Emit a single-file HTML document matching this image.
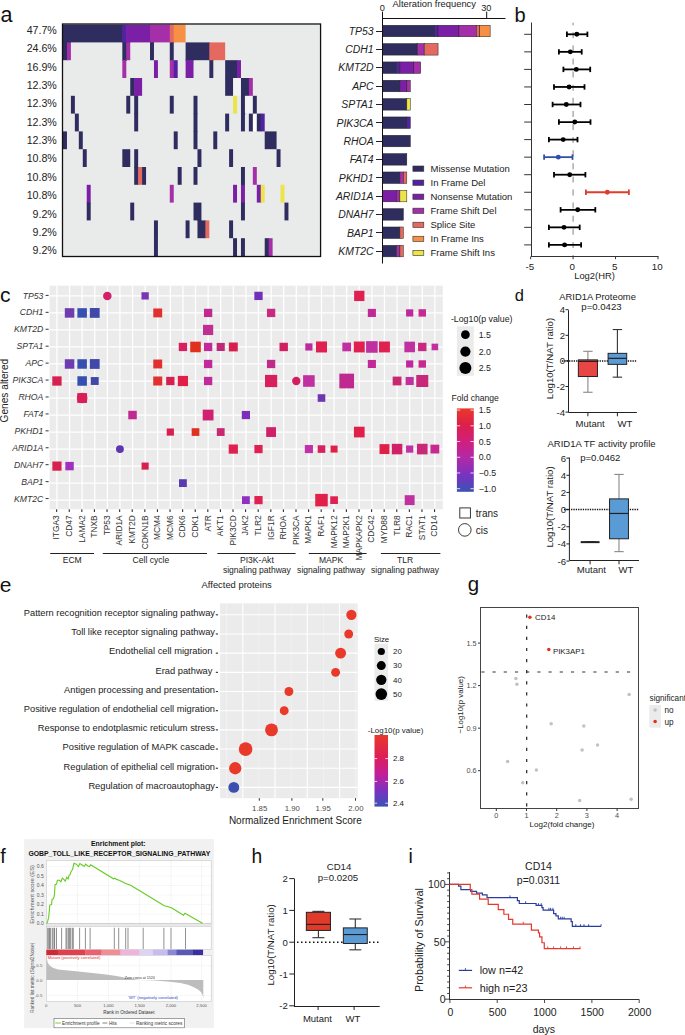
<!DOCTYPE html>
<html><head><meta charset="utf-8"><style>
html,body{margin:0;padding:0;background:#fff;}
body{width:685px;height:1035px;overflow:hidden;}
svg{display:block;font-family:"Liberation Sans", sans-serif;}
</style></head><body>
<svg width="685" height="1035" viewBox="0 0 685 1035">
<rect x="63.00" y="24.60" width="257.07" height="231.40" fill="#e9eaea"/>
<rect x="63.00" y="24.60" width="59.93" height="17.80" fill="#2f2c5f"/>
<rect x="63.00" y="41.90" width="3.98" height="1.10" fill="#2f2c5f"/>
<rect x="66.95" y="41.90" width="3.98" height="1.10" fill="#2f2c5f"/>
<rect x="122.33" y="24.60" width="4.55" height="18.40" fill="#5322a3"/>
<rect x="126.28" y="24.60" width="24.33" height="17.80" fill="#7a1fa6"/>
<rect x="126.28" y="41.90" width="3.98" height="1.10" fill="#7a1fa6"/>
<rect x="150.01" y="24.60" width="20.38" height="17.80" fill="#a42fa9"/>
<rect x="150.01" y="41.90" width="3.98" height="1.10" fill="#a42fa9"/>
<rect x="169.78" y="24.60" width="4.55" height="18.40" fill="#e46a60"/>
<rect x="173.74" y="24.60" width="11.87" height="17.80" fill="#f59046"/>
<rect x="63.00" y="42.40" width="4.55" height="17.80" fill="#2f2c5f"/>
<rect x="66.95" y="42.40" width="3.96" height="17.80" fill="#a42fa9"/>
<rect x="122.33" y="42.40" width="4.55" height="18.40" fill="#2f2c5f"/>
<rect x="126.28" y="42.40" width="3.96" height="17.80" fill="#a42fa9"/>
<rect x="150.01" y="42.40" width="3.96" height="17.80" fill="#2f2c5f"/>
<rect x="169.78" y="42.40" width="3.96" height="18.40" fill="#2f2c5f"/>
<rect x="185.61" y="42.40" width="24.33" height="17.80" fill="#2f2c5f"/>
<rect x="185.61" y="59.70" width="3.98" height="1.10" fill="#2f2c5f"/>
<rect x="189.56" y="59.70" width="3.98" height="1.10" fill="#2f2c5f"/>
<rect x="209.34" y="42.40" width="15.82" height="17.80" fill="#e46a60"/>
<rect x="209.34" y="59.70" width="3.98" height="1.10" fill="#e46a60"/>
<rect x="122.33" y="60.20" width="3.96" height="17.80" fill="#a42fa9"/>
<rect x="153.97" y="60.20" width="3.96" height="17.80" fill="#7a1fa6"/>
<rect x="169.78" y="60.20" width="4.55" height="17.80" fill="#a42fa9"/>
<rect x="173.74" y="60.20" width="3.96" height="17.80" fill="#5322a3"/>
<rect x="185.61" y="60.20" width="7.91" height="17.80" fill="#7a1fa6"/>
<rect x="209.34" y="60.20" width="3.96" height="17.80" fill="#2f2c5f"/>
<rect x="225.16" y="60.20" width="12.46" height="18.40" fill="#2f2c5f"/>
<rect x="237.02" y="60.20" width="3.96" height="18.40" fill="#7a1fa6"/>
<rect x="130.24" y="78.00" width="4.55" height="17.80" fill="#2f2c5f"/>
<rect x="134.19" y="78.00" width="7.91" height="17.80" fill="#7a1fa6"/>
<rect x="134.19" y="95.30" width="3.98" height="1.10" fill="#7a1fa6"/>
<rect x="225.16" y="78.00" width="8.51" height="17.80" fill="#2f2c5f"/>
<rect x="233.06" y="78.00" width="8.51" height="17.80" fill="#f1f2f2"/>
<rect x="233.06" y="95.30" width="3.98" height="1.10" fill="#f1f2f2"/>
<rect x="240.97" y="78.00" width="8.51" height="18.40" fill="#2f2c5f"/>
<rect x="248.88" y="78.00" width="3.96" height="18.40" fill="#a42fa9"/>
<rect x="70.91" y="95.80" width="3.96" height="17.80" fill="#2f2c5f"/>
<rect x="126.28" y="95.80" width="3.96" height="17.80" fill="#2f2c5f"/>
<rect x="134.19" y="95.80" width="3.96" height="18.40" fill="#2f2c5f"/>
<rect x="169.78" y="95.80" width="3.96" height="17.80" fill="#2f2c5f"/>
<rect x="193.52" y="95.80" width="3.96" height="18.40" fill="#2f2c5f"/>
<rect x="233.06" y="95.80" width="3.96" height="17.80" fill="#ebe54a"/>
<rect x="240.97" y="95.80" width="4.55" height="18.40" fill="#2f2c5f"/>
<rect x="244.93" y="95.80" width="8.51" height="17.80" fill="#f1f2f2"/>
<rect x="248.88" y="113.10" width="4.55" height="1.10" fill="#f1f2f2"/>
<rect x="252.84" y="95.80" width="3.96" height="18.40" fill="#2f2c5f"/>
<rect x="74.86" y="113.60" width="3.96" height="17.80" fill="#2f2c5f"/>
<rect x="134.19" y="113.60" width="3.96" height="17.80" fill="#2f2c5f"/>
<rect x="193.52" y="113.60" width="3.96" height="18.40" fill="#2f2c5f"/>
<rect x="225.16" y="113.60" width="3.96" height="17.80" fill="#2f2c5f"/>
<rect x="240.97" y="113.60" width="3.96" height="17.80" fill="#2f2c5f"/>
<rect x="248.88" y="113.60" width="4.55" height="17.80" fill="#2f2c5f"/>
<rect x="252.84" y="113.60" width="4.55" height="17.80" fill="#ffffff"/>
<rect x="256.80" y="113.60" width="4.55" height="17.80" fill="#2f2c5f"/>
<rect x="260.75" y="113.60" width="3.96" height="17.80" fill="#5322a3"/>
<rect x="63.00" y="131.40" width="3.96" height="17.80" fill="#2f2c5f"/>
<rect x="78.82" y="131.40" width="3.96" height="17.80" fill="#2f2c5f"/>
<rect x="173.74" y="131.40" width="3.96" height="17.80" fill="#2f2c5f"/>
<rect x="193.52" y="131.40" width="3.96" height="17.80" fill="#2f2c5f"/>
<rect x="213.29" y="131.40" width="3.96" height="17.80" fill="#2f2c5f"/>
<rect x="264.71" y="131.40" width="11.87" height="17.80" fill="#2f2c5f"/>
<rect x="82.78" y="149.20" width="3.96" height="17.80" fill="#2f2c5f"/>
<rect x="122.33" y="149.20" width="7.91" height="17.80" fill="#2f2c5f"/>
<rect x="134.19" y="149.20" width="3.96" height="18.40" fill="#2f2c5f"/>
<rect x="197.47" y="149.20" width="3.96" height="17.80" fill="#2f2c5f"/>
<rect x="229.11" y="149.20" width="3.96" height="17.80" fill="#2f2c5f"/>
<rect x="276.57" y="149.20" width="3.96" height="17.80" fill="#2f2c5f"/>
<rect x="134.19" y="167.00" width="4.55" height="17.80" fill="#2f2c5f"/>
<rect x="138.14" y="167.00" width="4.55" height="17.80" fill="#e46a60"/>
<rect x="142.10" y="167.00" width="3.96" height="17.80" fill="#2f2c5f"/>
<rect x="177.69" y="167.00" width="3.96" height="17.80" fill="#2f2c5f"/>
<rect x="193.52" y="167.00" width="3.96" height="17.80" fill="#2f2c5f"/>
<rect x="240.97" y="167.00" width="3.96" height="18.40" fill="#2f2c5f"/>
<rect x="252.84" y="167.00" width="3.96" height="17.80" fill="#a42fa9"/>
<rect x="86.73" y="184.80" width="3.96" height="18.40" fill="#7a1fa6"/>
<rect x="169.78" y="184.80" width="3.96" height="17.80" fill="#a42fa9"/>
<rect x="233.06" y="184.80" width="3.96" height="17.80" fill="#7a1fa6"/>
<rect x="240.97" y="184.80" width="3.96" height="18.40" fill="#7a1fa6"/>
<rect x="256.80" y="184.80" width="4.55" height="17.80" fill="#7a1fa6"/>
<rect x="260.75" y="184.80" width="3.96" height="17.80" fill="#ebe54a"/>
<rect x="280.52" y="184.80" width="3.96" height="17.80" fill="#ebe54a"/>
<rect x="86.73" y="202.60" width="3.96" height="17.80" fill="#2f2c5f"/>
<rect x="130.24" y="202.60" width="3.96" height="17.80" fill="#2f2c5f"/>
<rect x="193.52" y="202.60" width="7.91" height="17.80" fill="#2f2c5f"/>
<rect x="197.47" y="219.90" width="3.96" height="1.10" fill="#2f2c5f"/>
<rect x="240.97" y="202.60" width="3.96" height="17.80" fill="#2f2c5f"/>
<rect x="284.48" y="202.60" width="3.96" height="17.80" fill="#2f2c5f"/>
<rect x="153.97" y="220.40" width="3.96" height="18.40" fill="#2f2c5f"/>
<rect x="185.61" y="220.40" width="3.96" height="17.80" fill="#2f2c5f"/>
<rect x="197.47" y="220.40" width="8.51" height="17.80" fill="#2f2c5f"/>
<rect x="205.38" y="220.40" width="3.96" height="17.80" fill="#e46a60"/>
<rect x="229.11" y="220.40" width="3.96" height="17.80" fill="#2f2c5f"/>
<rect x="153.97" y="238.20" width="3.96" height="17.80" fill="#2f2c5f"/>
<rect x="233.06" y="238.20" width="3.96" height="17.80" fill="#2f2c5f"/>
<rect x="240.97" y="238.20" width="3.96" height="17.80" fill="#2f2c5f"/>
<rect x="264.71" y="238.20" width="4.55" height="17.80" fill="#2f2c5f"/>
<rect x="268.66" y="238.20" width="3.96" height="17.80" fill="#a42fa9"/>
<rect x="62.50" y="24.00" width="258.07" height="232.50" fill="none" stroke="#111" stroke-width="1.3"/>
<text x="56.80" y="33.90" font-size="10.65" text-anchor="end" fill="#222">47.7%</text>
<text x="56.80" y="52.27" font-size="10.65" text-anchor="end" fill="#222">24.6%</text>
<text x="56.80" y="70.64" font-size="10.65" text-anchor="end" fill="#222">16.9%</text>
<text x="56.80" y="89.01" font-size="10.65" text-anchor="end" fill="#222">12.3%</text>
<text x="56.80" y="107.38" font-size="10.65" text-anchor="end" fill="#222">12.3%</text>
<text x="56.80" y="125.75" font-size="10.65" text-anchor="end" fill="#222">12.3%</text>
<text x="56.80" y="144.12" font-size="10.65" text-anchor="end" fill="#222">12.3%</text>
<text x="56.80" y="162.49" font-size="10.65" text-anchor="end" fill="#222">10.8%</text>
<text x="56.80" y="180.86" font-size="10.65" text-anchor="end" fill="#222">10.8%</text>
<text x="56.80" y="199.23" font-size="10.65" text-anchor="end" fill="#222">10.8%</text>
<text x="56.80" y="217.60" font-size="10.65" text-anchor="end" fill="#222">9.2%</text>
<text x="56.80" y="235.97" font-size="10.65" text-anchor="end" fill="#222">9.2%</text>
<text x="56.80" y="254.34" font-size="10.65" text-anchor="end" fill="#222">9.2%</text>
<text x="0.50" y="21.80" font-size="21.5" fill="#111">a</text>
<rect x="382.50" y="25.25" width="52.09" height="11.5" fill="#2f2c5f" stroke="#222" stroke-width="0.5"/>
<rect x="434.60" y="25.25" width="3.47" height="11.5" fill="#5322a3" stroke="#222" stroke-width="0.5"/>
<rect x="438.07" y="25.25" width="20.84" height="11.5" fill="#7a1fa6" stroke="#222" stroke-width="0.5"/>
<rect x="458.91" y="25.25" width="17.36" height="11.5" fill="#a42fa9" stroke="#222" stroke-width="0.5"/>
<rect x="476.27" y="25.25" width="3.47" height="11.5" fill="#e46a60" stroke="#222" stroke-width="0.5"/>
<rect x="479.74" y="25.25" width="10.42" height="11.5" fill="#f59046" stroke="#222" stroke-width="0.5"/>
<text x="373.60" y="34.80" font-size="10.45" text-anchor="end" fill="#222" font-style="italic">TP53</text>
<line x1="376.00" y1="31.50" x2="382.50" y2="31.50" stroke="#222" stroke-width="1"/>
<rect x="382.50" y="43.59" width="34.73" height="11.5" fill="#2f2c5f" stroke="#222" stroke-width="0.5"/>
<rect x="417.23" y="43.59" width="6.95" height="11.5" fill="#a42fa9" stroke="#222" stroke-width="0.5"/>
<rect x="424.18" y="43.59" width="13.89" height="11.5" fill="#e46a60" stroke="#222" stroke-width="0.5"/>
<text x="373.60" y="53.14" font-size="10.45" text-anchor="end" fill="#222" font-style="italic">CDH1</text>
<line x1="376.00" y1="49.50" x2="382.50" y2="49.50" stroke="#222" stroke-width="1"/>
<rect x="382.50" y="61.93" width="13.89" height="11.5" fill="#2f2c5f" stroke="#222" stroke-width="0.5"/>
<rect x="396.39" y="61.93" width="3.47" height="11.5" fill="#5322a3" stroke="#222" stroke-width="0.5"/>
<rect x="399.87" y="61.93" width="13.89" height="11.5" fill="#7a1fa6" stroke="#222" stroke-width="0.5"/>
<rect x="413.76" y="61.93" width="6.95" height="11.5" fill="#a42fa9" stroke="#222" stroke-width="0.5"/>
<text x="373.60" y="71.48" font-size="10.45" text-anchor="end" fill="#222" font-style="italic">KMT2D</text>
<line x1="376.00" y1="67.50" x2="382.50" y2="67.50" stroke="#222" stroke-width="1"/>
<rect x="382.50" y="80.27" width="17.36" height="11.5" fill="#2f2c5f" stroke="#222" stroke-width="0.5"/>
<rect x="399.87" y="80.27" width="6.95" height="11.5" fill="#7a1fa6" stroke="#222" stroke-width="0.5"/>
<rect x="406.81" y="80.27" width="3.47" height="11.5" fill="#a42fa9" stroke="#222" stroke-width="0.5"/>
<text x="373.60" y="89.82" font-size="10.45" text-anchor="end" fill="#222" font-style="italic">APC</text>
<line x1="376.00" y1="86.50" x2="382.50" y2="86.50" stroke="#222" stroke-width="1"/>
<rect x="382.50" y="98.61" width="24.31" height="11.5" fill="#2f2c5f" stroke="#222" stroke-width="0.5"/>
<rect x="406.81" y="98.61" width="3.47" height="11.5" fill="#ebe54a" stroke="#222" stroke-width="0.5"/>
<text x="373.60" y="108.16" font-size="10.45" text-anchor="end" fill="#222" font-style="italic">SPTA1</text>
<line x1="376.00" y1="104.50" x2="382.50" y2="104.50" stroke="#222" stroke-width="1"/>
<rect x="382.50" y="116.95" width="24.31" height="11.5" fill="#2f2c5f" stroke="#222" stroke-width="0.5"/>
<rect x="406.81" y="116.95" width="3.47" height="11.5" fill="#5322a3" stroke="#222" stroke-width="0.5"/>
<text x="373.60" y="126.50" font-size="10.45" text-anchor="end" fill="#222" font-style="italic">PIK3CA</text>
<line x1="376.00" y1="122.50" x2="382.50" y2="122.50" stroke="#222" stroke-width="1"/>
<rect x="382.50" y="135.29" width="27.78" height="11.5" fill="#2f2c5f" stroke="#222" stroke-width="0.5"/>
<text x="373.60" y="144.84" font-size="10.45" text-anchor="end" fill="#222" font-style="italic">RHOA</text>
<line x1="376.00" y1="141.50" x2="382.50" y2="141.50" stroke="#222" stroke-width="1"/>
<rect x="382.50" y="153.63" width="24.31" height="11.5" fill="#2f2c5f" stroke="#222" stroke-width="0.5"/>
<text x="373.60" y="163.18" font-size="10.45" text-anchor="end" fill="#222" font-style="italic">FAT4</text>
<line x1="376.00" y1="159.50" x2="382.50" y2="159.50" stroke="#222" stroke-width="1"/>
<rect x="382.50" y="171.97" width="17.36" height="11.5" fill="#2f2c5f" stroke="#222" stroke-width="0.5"/>
<rect x="399.87" y="171.97" width="3.47" height="11.5" fill="#a42fa9" stroke="#222" stroke-width="0.5"/>
<rect x="403.34" y="171.97" width="3.47" height="11.5" fill="#e46a60" stroke="#222" stroke-width="0.5"/>
<text x="373.60" y="181.52" font-size="10.45" text-anchor="end" fill="#222" font-style="italic">PKHD1</text>
<line x1="376.00" y1="177.50" x2="382.50" y2="177.50" stroke="#222" stroke-width="1"/>
<rect x="382.50" y="190.31" width="13.89" height="11.5" fill="#7a1fa6" stroke="#222" stroke-width="0.5"/>
<rect x="396.39" y="190.31" width="3.47" height="11.5" fill="#a42fa9" stroke="#222" stroke-width="0.5"/>
<rect x="399.87" y="190.31" width="6.95" height="11.5" fill="#ebe54a" stroke="#222" stroke-width="0.5"/>
<text x="373.60" y="199.86" font-size="10.45" text-anchor="end" fill="#222" font-style="italic">ARID1A</text>
<line x1="376.00" y1="196.50" x2="382.50" y2="196.50" stroke="#222" stroke-width="1"/>
<rect x="382.50" y="208.65" width="20.84" height="11.5" fill="#2f2c5f" stroke="#222" stroke-width="0.5"/>
<text x="373.60" y="218.20" font-size="10.45" text-anchor="end" fill="#222" font-style="italic">DNAH7</text>
<line x1="376.00" y1="214.50" x2="382.50" y2="214.50" stroke="#222" stroke-width="1"/>
<rect x="382.50" y="226.99" width="17.36" height="11.5" fill="#2f2c5f" stroke="#222" stroke-width="0.5"/>
<rect x="399.87" y="226.99" width="3.47" height="11.5" fill="#e46a60" stroke="#222" stroke-width="0.5"/>
<text x="373.60" y="236.54" font-size="10.45" text-anchor="end" fill="#222" font-style="italic">BAP1</text>
<line x1="376.00" y1="232.50" x2="382.50" y2="232.50" stroke="#222" stroke-width="1"/>
<rect x="382.50" y="245.33" width="13.89" height="11.5" fill="#2f2c5f" stroke="#222" stroke-width="0.5"/>
<rect x="396.39" y="245.33" width="3.47" height="11.5" fill="#a42fa9" stroke="#222" stroke-width="0.5"/>
<rect x="399.87" y="245.33" width="3.47" height="11.5" fill="#e46a60" stroke="#222" stroke-width="0.5"/>
<text x="373.60" y="254.88" font-size="10.45" text-anchor="end" fill="#222" font-style="italic">KMT2C</text>
<line x1="376.00" y1="251.50" x2="382.50" y2="251.50" stroke="#222" stroke-width="1"/>
<line x1="382.50" y1="18.00" x2="382.50" y2="263.50" stroke="#111" stroke-width="1"/>
<line x1="382.00" y1="18.50" x2="505.50" y2="18.50" stroke="#111" stroke-width="1"/>
<line x1="382.50" y1="11.60" x2="382.50" y2="18.20" stroke="#111" stroke-width="1"/>
<line x1="486.69" y1="11.60" x2="486.69" y2="18.20" stroke="#111" stroke-width="1"/>
<text x="382.30" y="10.90" font-size="9.2" text-anchor="middle" fill="#222">0</text>
<text x="486.30" y="10.90" font-size="9.2" text-anchor="middle" fill="#222">30</text>
<text x="434.30" y="6.90" font-size="9.4" text-anchor="middle" fill="#222">Alteration frequency</text>
<rect x="412.90" y="166.00" width="10.9" height="5.3" fill="#2f2c5f" stroke="#333" stroke-width="0.6"/>
<text x="430.50" y="172.10" font-size="9.5" fill="#222">Missense Mutation</text>
<rect x="412.90" y="180.05" width="10.9" height="5.3" fill="#5322a3" stroke="#333" stroke-width="0.6"/>
<text x="430.50" y="186.15" font-size="9.5" fill="#222">In Frame Del</text>
<rect x="412.90" y="194.10" width="10.9" height="5.3" fill="#7a1fa6" stroke="#333" stroke-width="0.6"/>
<text x="430.50" y="200.20" font-size="9.5" fill="#222">Nonsense Mutation</text>
<rect x="412.90" y="208.15" width="10.9" height="5.3" fill="#a42fa9" stroke="#333" stroke-width="0.6"/>
<text x="430.50" y="214.25" font-size="9.5" fill="#222">Frame Shift Del</text>
<rect x="412.90" y="222.20" width="10.9" height="5.3" fill="#e46a60" stroke="#333" stroke-width="0.6"/>
<text x="430.50" y="228.30" font-size="9.5" fill="#222">Splice Site</text>
<rect x="412.90" y="236.25" width="10.9" height="5.3" fill="#f59046" stroke="#333" stroke-width="0.6"/>
<text x="430.50" y="242.35" font-size="9.5" fill="#222">In Frame Ins</text>
<rect x="412.90" y="250.30" width="10.9" height="5.3" fill="#ebe54a" stroke="#333" stroke-width="0.6"/>
<text x="430.50" y="256.40" font-size="9.5" fill="#222">Frame Shift Ins</text>
<text x="514.50" y="21.90" font-size="20" fill="#111">b</text>
<line x1="531.50" y1="22.50" x2="531.50" y2="256.50" stroke="#333" stroke-width="1"/>
<line x1="531.00" y1="256.50" x2="658.50" y2="256.50" stroke="#333" stroke-width="1"/>
<line x1="530.66" y1="256.50" x2="530.66" y2="259.20" stroke="#333" stroke-width="1"/>
<text x="529.87" y="270.10" font-size="9.8" text-anchor="middle" fill="#222">-5</text>
<line x1="573.10" y1="256.50" x2="573.10" y2="259.20" stroke="#333" stroke-width="1"/>
<text x="572.30" y="270.10" font-size="9.8" text-anchor="middle" fill="#222">0</text>
<line x1="615.54" y1="256.50" x2="615.54" y2="259.20" stroke="#333" stroke-width="1"/>
<text x="614.74" y="270.10" font-size="9.8" text-anchor="middle" fill="#222">5</text>
<line x1="657.97" y1="256.50" x2="657.97" y2="259.20" stroke="#333" stroke-width="1"/>
<text x="657.17" y="270.10" font-size="9.8" text-anchor="middle" fill="#222">10</text>
<text x="594.50" y="279.00" font-size="9.4" text-anchor="middle" fill="#222">Log2(HR)</text>
<line x1="573.10" y1="22.80" x2="573.10" y2="256.00" stroke="#8f8f8f" stroke-width="1.1" stroke-dasharray="6,7.1" stroke-dashoffset="3.6"/>
<line x1="524.20" y1="34.30" x2="531.50" y2="34.30" stroke="#333" stroke-width="1"/>
<line x1="566.90" y1="34.30" x2="587.40" y2="34.30" stroke="#000" stroke-width="1.8"/>
<line x1="566.90" y1="31.60" x2="566.90" y2="37.00" stroke="#000" stroke-width="1.8"/>
<line x1="587.40" y1="31.60" x2="587.40" y2="37.00" stroke="#000" stroke-width="1.8"/>
<circle cx="576.80" cy="34.30" r="2.45" fill="#000"/>
<line x1="524.20" y1="51.85" x2="531.50" y2="51.85" stroke="#333" stroke-width="1"/>
<line x1="558.90" y1="51.85" x2="581.70" y2="51.85" stroke="#000" stroke-width="1.8"/>
<line x1="558.90" y1="49.15" x2="558.90" y2="54.55" stroke="#000" stroke-width="1.8"/>
<line x1="581.70" y1="49.15" x2="581.70" y2="54.55" stroke="#000" stroke-width="1.8"/>
<circle cx="570.30" cy="51.85" r="2.45" fill="#000"/>
<line x1="524.20" y1="69.40" x2="531.50" y2="69.40" stroke="#333" stroke-width="1"/>
<line x1="563.40" y1="69.40" x2="590.20" y2="69.40" stroke="#000" stroke-width="1.8"/>
<line x1="563.40" y1="66.70" x2="563.40" y2="72.10" stroke="#000" stroke-width="1.8"/>
<line x1="590.20" y1="66.70" x2="590.20" y2="72.10" stroke="#000" stroke-width="1.8"/>
<circle cx="576.30" cy="69.40" r="2.45" fill="#000"/>
<line x1="524.20" y1="86.95" x2="531.50" y2="86.95" stroke="#333" stroke-width="1"/>
<line x1="554.00" y1="86.95" x2="584.50" y2="86.95" stroke="#000" stroke-width="1.8"/>
<line x1="554.00" y1="84.25" x2="554.00" y2="89.65" stroke="#000" stroke-width="1.8"/>
<line x1="584.50" y1="84.25" x2="584.50" y2="89.65" stroke="#000" stroke-width="1.8"/>
<circle cx="569.10" cy="86.95" r="2.45" fill="#000"/>
<line x1="524.20" y1="104.50" x2="531.50" y2="104.50" stroke="#333" stroke-width="1"/>
<line x1="552.60" y1="104.50" x2="580.50" y2="104.50" stroke="#000" stroke-width="1.8"/>
<line x1="552.60" y1="101.80" x2="552.60" y2="107.20" stroke="#000" stroke-width="1.8"/>
<line x1="580.50" y1="101.80" x2="580.50" y2="107.20" stroke="#000" stroke-width="1.8"/>
<circle cx="566.30" cy="104.50" r="2.45" fill="#000"/>
<line x1="524.20" y1="122.05" x2="531.50" y2="122.05" stroke="#333" stroke-width="1"/>
<line x1="558.90" y1="122.05" x2="590.50" y2="122.05" stroke="#000" stroke-width="1.8"/>
<line x1="558.90" y1="119.35" x2="558.90" y2="124.75" stroke="#000" stroke-width="1.8"/>
<line x1="590.50" y1="119.35" x2="590.50" y2="124.75" stroke="#000" stroke-width="1.8"/>
<circle cx="574.80" cy="122.05" r="2.45" fill="#000"/>
<line x1="524.20" y1="139.60" x2="531.50" y2="139.60" stroke="#333" stroke-width="1"/>
<line x1="548.90" y1="139.60" x2="577.50" y2="139.60" stroke="#000" stroke-width="1.8"/>
<line x1="548.90" y1="136.90" x2="548.90" y2="142.30" stroke="#000" stroke-width="1.8"/>
<line x1="577.50" y1="136.90" x2="577.50" y2="142.30" stroke="#000" stroke-width="1.8"/>
<circle cx="563.20" cy="139.60" r="2.45" fill="#000"/>
<line x1="524.20" y1="157.15" x2="531.50" y2="157.15" stroke="#333" stroke-width="1"/>
<line x1="544.10" y1="157.15" x2="572.50" y2="157.15" stroke="#3050a8" stroke-width="1.8"/>
<line x1="544.10" y1="154.45" x2="544.10" y2="159.85" stroke="#3050a8" stroke-width="1.8"/>
<line x1="572.50" y1="154.45" x2="572.50" y2="159.85" stroke="#3050a8" stroke-width="1.8"/>
<circle cx="558.30" cy="157.15" r="2.45" fill="#3050a8"/>
<line x1="524.20" y1="174.70" x2="531.50" y2="174.70" stroke="#333" stroke-width="1"/>
<line x1="554.00" y1="174.70" x2="585.40" y2="174.70" stroke="#000" stroke-width="1.8"/>
<line x1="554.00" y1="172.00" x2="554.00" y2="177.40" stroke="#000" stroke-width="1.8"/>
<line x1="585.40" y1="172.00" x2="585.40" y2="177.40" stroke="#000" stroke-width="1.8"/>
<circle cx="569.70" cy="174.70" r="2.45" fill="#000"/>
<line x1="524.20" y1="192.25" x2="531.50" y2="192.25" stroke="#333" stroke-width="1"/>
<line x1="585.90" y1="192.25" x2="628.90" y2="192.25" stroke="#e03c2c" stroke-width="1.8"/>
<line x1="585.90" y1="189.55" x2="585.90" y2="194.95" stroke="#e03c2c" stroke-width="1.8"/>
<line x1="628.90" y1="189.55" x2="628.90" y2="194.95" stroke="#e03c2c" stroke-width="1.8"/>
<circle cx="607.30" cy="192.25" r="2.45" fill="#e03c2c"/>
<line x1="524.20" y1="209.80" x2="531.50" y2="209.80" stroke="#333" stroke-width="1"/>
<line x1="560.60" y1="209.80" x2="595.30" y2="209.80" stroke="#000" stroke-width="1.8"/>
<line x1="560.60" y1="207.10" x2="560.60" y2="212.50" stroke="#000" stroke-width="1.8"/>
<line x1="595.30" y1="207.10" x2="595.30" y2="212.50" stroke="#000" stroke-width="1.8"/>
<circle cx="577.70" cy="209.80" r="2.45" fill="#000"/>
<line x1="524.20" y1="227.35" x2="531.50" y2="227.35" stroke="#333" stroke-width="1"/>
<line x1="548.90" y1="227.35" x2="579.70" y2="227.35" stroke="#000" stroke-width="1.8"/>
<line x1="548.90" y1="224.65" x2="548.90" y2="230.05" stroke="#000" stroke-width="1.8"/>
<line x1="579.70" y1="224.65" x2="579.70" y2="230.05" stroke="#000" stroke-width="1.8"/>
<circle cx="564.00" cy="227.35" r="2.45" fill="#000"/>
<line x1="524.20" y1="244.90" x2="531.50" y2="244.90" stroke="#333" stroke-width="1"/>
<line x1="548.90" y1="244.90" x2="581.10" y2="244.90" stroke="#000" stroke-width="1.8"/>
<line x1="548.90" y1="242.20" x2="548.90" y2="247.60" stroke="#000" stroke-width="1.8"/>
<line x1="581.10" y1="242.20" x2="581.10" y2="247.60" stroke="#000" stroke-width="1.8"/>
<circle cx="564.60" cy="244.90" r="2.45" fill="#000"/>
<text x="0.00" y="301.50" font-size="21" fill="#111">c</text>
<rect x="49.60" y="285.70" width="393.20" height="223.60" fill="#ebebeb"/>
<line x1="56.95" y1="285.70" x2="56.95" y2="509.30" stroke="#ffffff" stroke-width="1.25"/>
<line x1="69.55" y1="285.70" x2="69.55" y2="509.30" stroke="#ffffff" stroke-width="1.25"/>
<line x1="82.14" y1="285.70" x2="82.14" y2="509.30" stroke="#ffffff" stroke-width="1.25"/>
<line x1="94.74" y1="285.70" x2="94.74" y2="509.30" stroke="#ffffff" stroke-width="1.25"/>
<line x1="107.34" y1="285.70" x2="107.34" y2="509.30" stroke="#ffffff" stroke-width="1.25"/>
<line x1="119.94" y1="285.70" x2="119.94" y2="509.30" stroke="#ffffff" stroke-width="1.25"/>
<line x1="132.53" y1="285.70" x2="132.53" y2="509.30" stroke="#ffffff" stroke-width="1.25"/>
<line x1="145.13" y1="285.70" x2="145.13" y2="509.30" stroke="#ffffff" stroke-width="1.25"/>
<line x1="157.73" y1="285.70" x2="157.73" y2="509.30" stroke="#ffffff" stroke-width="1.25"/>
<line x1="170.32" y1="285.70" x2="170.32" y2="509.30" stroke="#ffffff" stroke-width="1.25"/>
<line x1="182.92" y1="285.70" x2="182.92" y2="509.30" stroke="#ffffff" stroke-width="1.25"/>
<line x1="195.52" y1="285.70" x2="195.52" y2="509.30" stroke="#ffffff" stroke-width="1.25"/>
<line x1="208.11" y1="285.70" x2="208.11" y2="509.30" stroke="#ffffff" stroke-width="1.25"/>
<line x1="220.71" y1="285.70" x2="220.71" y2="509.30" stroke="#ffffff" stroke-width="1.25"/>
<line x1="233.31" y1="285.70" x2="233.31" y2="509.30" stroke="#ffffff" stroke-width="1.25"/>
<line x1="245.90" y1="285.70" x2="245.90" y2="509.30" stroke="#ffffff" stroke-width="1.25"/>
<line x1="258.50" y1="285.70" x2="258.50" y2="509.30" stroke="#ffffff" stroke-width="1.25"/>
<line x1="271.10" y1="285.70" x2="271.10" y2="509.30" stroke="#ffffff" stroke-width="1.25"/>
<line x1="283.70" y1="285.70" x2="283.70" y2="509.30" stroke="#ffffff" stroke-width="1.25"/>
<line x1="296.29" y1="285.70" x2="296.29" y2="509.30" stroke="#ffffff" stroke-width="1.25"/>
<line x1="308.89" y1="285.70" x2="308.89" y2="509.30" stroke="#ffffff" stroke-width="1.25"/>
<line x1="321.49" y1="285.70" x2="321.49" y2="509.30" stroke="#ffffff" stroke-width="1.25"/>
<line x1="334.08" y1="285.70" x2="334.08" y2="509.30" stroke="#ffffff" stroke-width="1.25"/>
<line x1="346.68" y1="285.70" x2="346.68" y2="509.30" stroke="#ffffff" stroke-width="1.25"/>
<line x1="359.28" y1="285.70" x2="359.28" y2="509.30" stroke="#ffffff" stroke-width="1.25"/>
<line x1="371.88" y1="285.70" x2="371.88" y2="509.30" stroke="#ffffff" stroke-width="1.25"/>
<line x1="384.47" y1="285.70" x2="384.47" y2="509.30" stroke="#ffffff" stroke-width="1.25"/>
<line x1="397.07" y1="285.70" x2="397.07" y2="509.30" stroke="#ffffff" stroke-width="1.25"/>
<line x1="409.67" y1="285.70" x2="409.67" y2="509.30" stroke="#ffffff" stroke-width="1.25"/>
<line x1="422.26" y1="285.70" x2="422.26" y2="509.30" stroke="#ffffff" stroke-width="1.25"/>
<line x1="434.86" y1="285.70" x2="434.86" y2="509.30" stroke="#ffffff" stroke-width="1.25"/>
<line x1="49.60" y1="295.90" x2="442.80" y2="295.90" stroke="#ffffff" stroke-width="1.25"/>
<line x1="49.60" y1="312.92" x2="442.80" y2="312.92" stroke="#ffffff" stroke-width="1.25"/>
<line x1="49.60" y1="329.94" x2="442.80" y2="329.94" stroke="#ffffff" stroke-width="1.25"/>
<line x1="49.60" y1="346.96" x2="442.80" y2="346.96" stroke="#ffffff" stroke-width="1.25"/>
<line x1="49.60" y1="363.98" x2="442.80" y2="363.98" stroke="#ffffff" stroke-width="1.25"/>
<line x1="49.60" y1="381.00" x2="442.80" y2="381.00" stroke="#ffffff" stroke-width="1.25"/>
<line x1="49.60" y1="398.02" x2="442.80" y2="398.02" stroke="#ffffff" stroke-width="1.25"/>
<line x1="49.60" y1="415.04" x2="442.80" y2="415.04" stroke="#ffffff" stroke-width="1.25"/>
<line x1="49.60" y1="432.06" x2="442.80" y2="432.06" stroke="#ffffff" stroke-width="1.25"/>
<line x1="49.60" y1="449.08" x2="442.80" y2="449.08" stroke="#ffffff" stroke-width="1.25"/>
<line x1="49.60" y1="466.10" x2="442.80" y2="466.10" stroke="#ffffff" stroke-width="1.25"/>
<line x1="49.60" y1="483.12" x2="442.80" y2="483.12" stroke="#ffffff" stroke-width="1.25"/>
<line x1="49.60" y1="500.14" x2="442.80" y2="500.14" stroke="#ffffff" stroke-width="1.25"/>
<text x="43.30" y="298.50" font-size="8.65" text-anchor="end" fill="#333" font-style="italic">TP53</text>
<line x1="45.60" y1="295.40" x2="48.60" y2="295.40" stroke="#333" stroke-width="1"/>
<text x="43.30" y="315.43" font-size="8.65" text-anchor="end" fill="#333" font-style="italic">CDH1</text>
<line x1="45.60" y1="312.33" x2="48.60" y2="312.33" stroke="#333" stroke-width="1"/>
<text x="43.30" y="332.36" font-size="8.65" text-anchor="end" fill="#333" font-style="italic">KMT2D</text>
<line x1="45.60" y1="329.26" x2="48.60" y2="329.26" stroke="#333" stroke-width="1"/>
<text x="43.30" y="349.29" font-size="8.65" text-anchor="end" fill="#333" font-style="italic">SPTA1</text>
<line x1="45.60" y1="346.19" x2="48.60" y2="346.19" stroke="#333" stroke-width="1"/>
<text x="43.30" y="366.22" font-size="8.65" text-anchor="end" fill="#333" font-style="italic">APC</text>
<line x1="45.60" y1="363.12" x2="48.60" y2="363.12" stroke="#333" stroke-width="1"/>
<text x="43.30" y="383.15" font-size="8.65" text-anchor="end" fill="#333" font-style="italic">PIK3CA</text>
<line x1="45.60" y1="380.05" x2="48.60" y2="380.05" stroke="#333" stroke-width="1"/>
<text x="43.30" y="400.08" font-size="8.65" text-anchor="end" fill="#333" font-style="italic">RHOA</text>
<line x1="45.60" y1="396.98" x2="48.60" y2="396.98" stroke="#333" stroke-width="1"/>
<text x="43.30" y="417.01" font-size="8.65" text-anchor="end" fill="#333" font-style="italic">FAT4</text>
<line x1="45.60" y1="413.91" x2="48.60" y2="413.91" stroke="#333" stroke-width="1"/>
<text x="43.30" y="433.94" font-size="8.65" text-anchor="end" fill="#333" font-style="italic">PKHD1</text>
<line x1="45.60" y1="430.84" x2="48.60" y2="430.84" stroke="#333" stroke-width="1"/>
<text x="43.30" y="450.87" font-size="8.65" text-anchor="end" fill="#333" font-style="italic">ARID1A</text>
<line x1="45.60" y1="447.77" x2="48.60" y2="447.77" stroke="#333" stroke-width="1"/>
<text x="43.30" y="467.80" font-size="8.65" text-anchor="end" fill="#333" font-style="italic">DNAH7</text>
<line x1="45.60" y1="464.70" x2="48.60" y2="464.70" stroke="#333" stroke-width="1"/>
<text x="43.30" y="484.73" font-size="8.65" text-anchor="end" fill="#333" font-style="italic">BAP1</text>
<line x1="45.60" y1="481.63" x2="48.60" y2="481.63" stroke="#333" stroke-width="1"/>
<text x="43.30" y="501.66" font-size="8.65" text-anchor="end" fill="#333" font-style="italic">KMT2C</text>
<line x1="45.60" y1="498.56" x2="48.60" y2="498.56" stroke="#333" stroke-width="1"/>
<line x1="56.65" y1="509.30" x2="56.65" y2="511.90" stroke="#333" stroke-width="1.1"/>
<text x="59.45" y="515.30" font-size="8.4" text-anchor="end" fill="#333" transform="rotate(-90 59.45 515.30)">ITGA3</text>
<line x1="69.25" y1="509.30" x2="69.25" y2="511.90" stroke="#333" stroke-width="1.1"/>
<text x="72.05" y="515.30" font-size="8.4" text-anchor="end" fill="#333" transform="rotate(-90 72.05 515.30)">CD47</text>
<line x1="81.84" y1="509.30" x2="81.84" y2="511.90" stroke="#333" stroke-width="1.1"/>
<text x="84.64" y="515.30" font-size="8.4" text-anchor="end" fill="#333" transform="rotate(-90 84.64 515.30)">LAMA2</text>
<line x1="94.44" y1="509.30" x2="94.44" y2="511.90" stroke="#333" stroke-width="1.1"/>
<text x="97.24" y="515.30" font-size="8.4" text-anchor="end" fill="#333" transform="rotate(-90 97.24 515.30)">TNXB</text>
<line x1="107.04" y1="509.30" x2="107.04" y2="511.90" stroke="#333" stroke-width="1.1"/>
<text x="109.84" y="515.30" font-size="8.4" text-anchor="end" fill="#333" transform="rotate(-90 109.84 515.30)">TP53</text>
<line x1="119.64" y1="509.30" x2="119.64" y2="511.90" stroke="#333" stroke-width="1.1"/>
<text x="122.44" y="515.30" font-size="8.4" text-anchor="end" fill="#333" transform="rotate(-90 122.44 515.30)">ARID1A</text>
<line x1="132.23" y1="509.30" x2="132.23" y2="511.90" stroke="#333" stroke-width="1.1"/>
<text x="135.03" y="515.30" font-size="8.4" text-anchor="end" fill="#333" transform="rotate(-90 135.03 515.30)">KMT2D</text>
<line x1="144.83" y1="509.30" x2="144.83" y2="511.90" stroke="#333" stroke-width="1.1"/>
<text x="147.63" y="515.30" font-size="8.4" text-anchor="end" fill="#333" transform="rotate(-90 147.63 515.30)">CDKN1B</text>
<line x1="157.43" y1="509.30" x2="157.43" y2="511.90" stroke="#333" stroke-width="1.1"/>
<text x="160.23" y="515.30" font-size="8.4" text-anchor="end" fill="#333" transform="rotate(-90 160.23 515.30)">MCM4</text>
<line x1="170.02" y1="509.30" x2="170.02" y2="511.90" stroke="#333" stroke-width="1.1"/>
<text x="172.82" y="515.30" font-size="8.4" text-anchor="end" fill="#333" transform="rotate(-90 172.82 515.30)">MCM6</text>
<line x1="182.62" y1="509.30" x2="182.62" y2="511.90" stroke="#333" stroke-width="1.1"/>
<text x="185.42" y="515.30" font-size="8.4" text-anchor="end" fill="#333" transform="rotate(-90 185.42 515.30)">CDK6</text>
<line x1="195.22" y1="509.30" x2="195.22" y2="511.90" stroke="#333" stroke-width="1.1"/>
<text x="198.02" y="515.30" font-size="8.4" text-anchor="end" fill="#333" transform="rotate(-90 198.02 515.30)">CDK1</text>
<line x1="207.81" y1="509.30" x2="207.81" y2="511.90" stroke="#333" stroke-width="1.1"/>
<text x="210.61" y="515.30" font-size="8.4" text-anchor="end" fill="#333" transform="rotate(-90 210.61 515.30)">ATR</text>
<line x1="220.41" y1="509.30" x2="220.41" y2="511.90" stroke="#333" stroke-width="1.1"/>
<text x="223.21" y="515.30" font-size="8.4" text-anchor="end" fill="#333" transform="rotate(-90 223.21 515.30)">AKT1</text>
<line x1="233.01" y1="509.30" x2="233.01" y2="511.90" stroke="#333" stroke-width="1.1"/>
<text x="235.81" y="515.30" font-size="8.4" text-anchor="end" fill="#333" transform="rotate(-90 235.81 515.30)">PIK3CD</text>
<line x1="245.60" y1="509.30" x2="245.60" y2="511.90" stroke="#333" stroke-width="1.1"/>
<text x="248.40" y="515.30" font-size="8.4" text-anchor="end" fill="#333" transform="rotate(-90 248.40 515.30)">JAK2</text>
<line x1="258.20" y1="509.30" x2="258.20" y2="511.90" stroke="#333" stroke-width="1.1"/>
<text x="261.00" y="515.30" font-size="8.4" text-anchor="end" fill="#333" transform="rotate(-90 261.00 515.30)">TLR2</text>
<line x1="270.80" y1="509.30" x2="270.80" y2="511.90" stroke="#333" stroke-width="1.1"/>
<text x="273.60" y="515.30" font-size="8.4" text-anchor="end" fill="#333" transform="rotate(-90 273.60 515.30)">IGF1R</text>
<line x1="283.40" y1="509.30" x2="283.40" y2="511.90" stroke="#333" stroke-width="1.1"/>
<text x="286.20" y="515.30" font-size="8.4" text-anchor="end" fill="#333" transform="rotate(-90 286.20 515.30)">RHOA</text>
<line x1="295.99" y1="509.30" x2="295.99" y2="511.90" stroke="#333" stroke-width="1.1"/>
<text x="298.79" y="515.30" font-size="8.4" text-anchor="end" fill="#333" transform="rotate(-90 298.79 515.30)">PIK3CA</text>
<line x1="308.59" y1="509.30" x2="308.59" y2="511.90" stroke="#333" stroke-width="1.1"/>
<text x="311.39" y="515.30" font-size="8.4" text-anchor="end" fill="#333" transform="rotate(-90 311.39 515.30)">MAPK1</text>
<line x1="321.19" y1="509.30" x2="321.19" y2="511.90" stroke="#333" stroke-width="1.1"/>
<text x="323.99" y="515.30" font-size="8.4" text-anchor="end" fill="#333" transform="rotate(-90 323.99 515.30)">RAF1</text>
<line x1="333.78" y1="509.30" x2="333.78" y2="511.90" stroke="#333" stroke-width="1.1"/>
<text x="336.58" y="515.30" font-size="8.4" text-anchor="end" fill="#333" transform="rotate(-90 336.58 515.30)">MAPK12</text>
<line x1="346.38" y1="509.30" x2="346.38" y2="511.90" stroke="#333" stroke-width="1.1"/>
<text x="349.18" y="515.30" font-size="8.4" text-anchor="end" fill="#333" transform="rotate(-90 349.18 515.30)">MAP2K1</text>
<line x1="358.98" y1="509.30" x2="358.98" y2="511.90" stroke="#333" stroke-width="1.1"/>
<text x="361.78" y="515.30" font-size="8.4" text-anchor="end" fill="#333" transform="rotate(-90 361.78 515.30)">MAPKAPK2</text>
<line x1="371.57" y1="509.30" x2="371.57" y2="511.90" stroke="#333" stroke-width="1.1"/>
<text x="374.38" y="515.30" font-size="8.4" text-anchor="end" fill="#333" transform="rotate(-90 374.38 515.30)">CDC42</text>
<line x1="384.17" y1="509.30" x2="384.17" y2="511.90" stroke="#333" stroke-width="1.1"/>
<text x="386.97" y="515.30" font-size="8.4" text-anchor="end" fill="#333" transform="rotate(-90 386.97 515.30)">MYD88</text>
<line x1="396.77" y1="509.30" x2="396.77" y2="511.90" stroke="#333" stroke-width="1.1"/>
<text x="399.57" y="515.30" font-size="8.4" text-anchor="end" fill="#333" transform="rotate(-90 399.57 515.30)">TLR8</text>
<line x1="409.37" y1="509.30" x2="409.37" y2="511.90" stroke="#333" stroke-width="1.1"/>
<text x="412.17" y="515.30" font-size="8.4" text-anchor="end" fill="#333" transform="rotate(-90 412.17 515.30)">RAC1</text>
<line x1="421.96" y1="509.30" x2="421.96" y2="511.90" stroke="#333" stroke-width="1.1"/>
<text x="424.76" y="515.30" font-size="8.4" text-anchor="end" fill="#333" transform="rotate(-90 424.76 515.30)">STAT1</text>
<line x1="434.56" y1="509.30" x2="434.56" y2="511.90" stroke="#333" stroke-width="1.1"/>
<text x="437.36" y="515.30" font-size="8.4" text-anchor="end" fill="#333" transform="rotate(-90 437.36 515.30)">CD14</text>
<circle cx="107.34" cy="295.90" r="4.25" fill="#d2206a"/>
<rect x="141.48" y="292.25" width="7.30" height="7.30" fill="#7a35b5"/>
<rect x="254.35" y="291.75" width="8.30" height="8.30" fill="#7030b8"/>
<rect x="354.13" y="290.75" width="10.30" height="10.30" fill="#e02050"/>
<rect x="64.80" y="308.17" width="9.50" height="9.50" fill="#6e3cb0"/>
<rect x="77.39" y="308.17" width="9.50" height="9.50" fill="#3550b0"/>
<rect x="89.84" y="308.02" width="9.80" height="9.80" fill="#4048a8"/>
<rect x="153.28" y="308.47" width="8.90" height="8.90" fill="#e03030"/>
<rect x="203.96" y="308.77" width="8.30" height="8.30" fill="#c02a90"/>
<rect x="266.95" y="308.77" width="8.30" height="8.30" fill="#c82a80"/>
<rect x="367.82" y="308.87" width="8.10" height="8.10" fill="#c02a98"/>
<rect x="406.07" y="309.32" width="7.20" height="7.20" fill="#c028a0"/>
<rect x="418.56" y="309.22" width="7.40" height="7.40" fill="#c82890"/>
<rect x="203.01" y="324.84" width="10.20" height="10.20" fill="#c03090"/>
<rect x="178.77" y="342.81" width="8.30" height="8.30" fill="#d82060"/>
<rect x="190.22" y="341.66" width="10.60" height="10.60" fill="#e03020"/>
<rect x="203.96" y="342.81" width="8.30" height="8.30" fill="#c02a9a"/>
<rect x="216.66" y="342.91" width="8.10" height="8.10" fill="#c02878"/>
<rect x="228.86" y="342.51" width="8.90" height="8.90" fill="#d82050"/>
<rect x="279.50" y="342.76" width="8.40" height="8.40" fill="#d02060"/>
<rect x="305.29" y="343.36" width="7.20" height="7.20" fill="#c02aa0"/>
<rect x="315.99" y="341.46" width="11.00" height="11.00" fill="#e02050"/>
<rect x="342.33" y="342.61" width="8.70" height="8.70" fill="#c030a0"/>
<rect x="353.83" y="341.51" width="10.90" height="10.90" fill="#e02050"/>
<rect x="366.07" y="341.16" width="11.60" height="11.60" fill="#c030a0"/>
<rect x="379.02" y="341.51" width="10.90" height="10.90" fill="#e02050"/>
<rect x="404.37" y="341.66" width="10.60" height="10.60" fill="#c030a0"/>
<rect x="418.06" y="342.76" width="8.40" height="8.40" fill="#c82880"/>
<rect x="431.56" y="343.66" width="6.60" height="6.60" fill="#c030a0"/>
<rect x="64.80" y="359.23" width="9.50" height="9.50" fill="#6e3cb0"/>
<rect x="77.39" y="359.23" width="9.50" height="9.50" fill="#3550b0"/>
<rect x="89.84" y="359.08" width="9.80" height="9.80" fill="#4048a8"/>
<rect x="153.28" y="359.53" width="8.90" height="8.90" fill="#e03030"/>
<rect x="203.96" y="359.83" width="8.30" height="8.30" fill="#c02a9a"/>
<rect x="266.95" y="359.83" width="8.30" height="8.30" fill="#c02a88"/>
<rect x="367.82" y="359.93" width="8.10" height="8.10" fill="#c02a98"/>
<rect x="406.07" y="360.38" width="7.20" height="7.20" fill="#c028a0"/>
<rect x="418.56" y="360.28" width="7.40" height="7.40" fill="#c82890"/>
<rect x="52.30" y="376.35" width="9.30" height="9.30" fill="#d82050"/>
<rect x="77.39" y="376.25" width="9.50" height="9.50" fill="#3550b0"/>
<rect x="90.79" y="377.05" width="7.90" height="7.90" fill="#4048a8"/>
<rect x="153.23" y="376.50" width="9.00" height="9.00" fill="#e03030"/>
<rect x="166.17" y="376.85" width="8.30" height="8.30" fill="#d82050"/>
<rect x="177.82" y="375.90" width="10.20" height="10.20" fill="#e02048"/>
<rect x="203.96" y="376.85" width="8.30" height="8.30" fill="#c02a9a"/>
<rect x="265.00" y="374.90" width="12.20" height="12.20" fill="#d82060"/>
<circle cx="296.29" cy="381.00" r="4.20" fill="#d02060"/>
<rect x="303.09" y="375.20" width="11.60" height="11.60" fill="#c030a0"/>
<rect x="339.33" y="373.65" width="14.70" height="14.70" fill="#c02a90"/>
<rect x="392.67" y="376.60" width="8.80" height="8.80" fill="#c82870"/>
<rect x="405.62" y="376.95" width="8.10" height="8.10" fill="#c030a0"/>
<rect x="416.26" y="375.00" width="12.00" height="12.00" fill="#c82878"/>
<rect x="77.24" y="393.12" width="9.80" height="9.80" fill="#d81e58"/>
<circle cx="82.14" cy="398.02" r="5.30" fill="#d81e58"/>
<rect x="317.69" y="394.22" width="7.60" height="7.60" fill="#7035b0"/>
<rect x="128.28" y="410.79" width="8.50" height="8.50" fill="#c02a90"/>
<rect x="202.71" y="409.64" width="10.80" height="10.80" fill="#d02070"/>
<rect x="241.80" y="410.94" width="8.20" height="8.20" fill="#7a30b8"/>
<rect x="166.72" y="428.46" width="7.20" height="7.20" fill="#d82050"/>
<rect x="191.67" y="428.21" width="7.70" height="7.70" fill="#e03020"/>
<rect x="216.81" y="428.16" width="7.80" height="7.80" fill="#c82870"/>
<rect x="266.20" y="427.16" width="9.80" height="9.80" fill="#d02068"/>
<rect x="353.93" y="426.71" width="10.70" height="10.70" fill="#e02048"/>
<circle cx="119.94" cy="449.08" r="3.95" fill="#6035b0"/>
<rect x="228.71" y="444.48" width="9.20" height="9.20" fill="#e02050"/>
<rect x="254.40" y="444.98" width="8.20" height="8.20" fill="#e02050"/>
<rect x="304.84" y="445.03" width="8.10" height="8.10" fill="#c030a8"/>
<rect x="317.69" y="445.28" width="7.60" height="7.60" fill="#d82060"/>
<rect x="330.58" y="445.58" width="7.00" height="7.00" fill="#e02048"/>
<rect x="379.52" y="444.13" width="9.90" height="9.90" fill="#e02048"/>
<rect x="391.82" y="443.83" width="10.50" height="10.50" fill="#d02068"/>
<rect x="406.07" y="445.48" width="7.20" height="7.20" fill="#c030a8"/>
<rect x="416.96" y="443.78" width="10.60" height="10.60" fill="#c82878"/>
<rect x="430.46" y="444.68" width="8.80" height="8.80" fill="#c82890"/>
<rect x="52.35" y="461.50" width="9.20" height="9.20" fill="#d82050"/>
<rect x="65.35" y="461.90" width="8.40" height="8.40" fill="#a030c0"/>
<rect x="141.58" y="462.55" width="7.10" height="7.10" fill="#d82050"/>
<rect x="179.02" y="479.22" width="7.80" height="7.80" fill="#5a3ab0"/>
<rect x="242.00" y="496.24" width="7.80" height="7.80" fill="#9030c0"/>
<rect x="254.40" y="496.04" width="8.20" height="8.20" fill="#e02050"/>
<rect x="315.24" y="493.89" width="12.50" height="12.50" fill="#e02048"/>
<rect x="330.23" y="496.29" width="7.70" height="7.70" fill="#e02050"/>
<rect x="404.72" y="495.19" width="9.90" height="9.90" fill="#c030a0"/>
<text x="7.8" y="390.6" font-size="10.15" text-anchor="middle" fill="#222" transform="rotate(-90 7.8 390.6)">Genes altered</text>
<line x1="50.20" y1="553.50" x2="94.00" y2="553.50" stroke="#222" stroke-width="1"/>
<text x="72.20" y="563.30" font-size="8.55" text-anchor="middle" fill="#222">ECM</text>
<line x1="102.80" y1="553.50" x2="207.00" y2="553.50" stroke="#222" stroke-width="1"/>
<text x="150.90" y="563.30" font-size="8.55" text-anchor="middle" fill="#222">Cell cycle</text>
<line x1="217.40" y1="553.50" x2="295.60" y2="553.50" stroke="#222" stroke-width="1"/>
<text x="256.90" y="563.30" font-size="8.55" text-anchor="middle" fill="#222">PI3K-Akt</text>
<text x="256.90" y="572.60" font-size="8.55" text-anchor="middle" fill="#222">signaling pathway</text>
<line x1="308.80" y1="553.50" x2="366.60" y2="553.50" stroke="#222" stroke-width="1"/>
<text x="331.10" y="563.30" font-size="8.55" text-anchor="middle" fill="#222">MAPK</text>
<text x="331.10" y="572.60" font-size="8.55" text-anchor="middle" fill="#222">signaling pathway</text>
<line x1="380.90" y1="553.50" x2="440.40" y2="553.50" stroke="#222" stroke-width="1"/>
<text x="405.00" y="563.30" font-size="8.55" text-anchor="middle" fill="#222">TLR</text>
<text x="405.00" y="572.60" font-size="8.55" text-anchor="middle" fill="#222">signaling pathway</text>
<text x="236.70" y="587.60" font-size="9.4" text-anchor="middle" fill="#222">Affected proteins</text>
<text x="450.90" y="321.60" font-size="8.8" fill="#222">-Log10(p value)</text>
<rect x="456.90" y="326.30" width="16.90" height="49.50" fill="#ebebeb"/>
<circle cx="465.40" cy="334.70" r="4.35" fill="#000"/>
<text x="478.70" y="337.90" font-size="8.8" fill="#222">1.5</text>
<circle cx="465.40" cy="351.60" r="5.10" fill="#000"/>
<text x="478.70" y="354.80" font-size="8.8" fill="#222">2.0</text>
<circle cx="465.40" cy="368.00" r="6.00" fill="#000"/>
<text x="478.70" y="371.20" font-size="8.8" fill="#222">2.5</text>
<text x="451.60" y="400.80" font-size="8.6" fill="#222">Fold change</text>
<defs><linearGradient id="gc" x1="0" y1="0" x2="0" y2="1"><stop offset="0" stop-color="#e8392a"/><stop offset="0.2" stop-color="#dd1f4c"/><stop offset="0.4" stop-color="#d01f7e"/><stop offset="0.6" stop-color="#b02aa8"/><stop offset="0.8" stop-color="#7a32c0"/><stop offset="1" stop-color="#3a52b4"/></linearGradient></defs>
<rect x="456.90" y="408.40" width="16.90" height="83.40" fill="url(#gc)"/>
<line x1="456.90" y1="410.10" x2="460.20" y2="410.10" stroke="#fff" stroke-width="0.8"/>
<line x1="470.50" y1="410.10" x2="473.80" y2="410.10" stroke="#fff" stroke-width="0.8"/>
<text x="478.70" y="413.30" font-size="8.8" fill="#222">1.5</text>
<line x1="456.90" y1="425.82" x2="460.20" y2="425.82" stroke="#fff" stroke-width="0.8"/>
<line x1="470.50" y1="425.82" x2="473.80" y2="425.82" stroke="#fff" stroke-width="0.8"/>
<text x="478.70" y="429.02" font-size="8.8" fill="#222">1.0</text>
<line x1="456.90" y1="441.54" x2="460.20" y2="441.54" stroke="#fff" stroke-width="0.8"/>
<line x1="470.50" y1="441.54" x2="473.80" y2="441.54" stroke="#fff" stroke-width="0.8"/>
<text x="478.70" y="444.74" font-size="8.8" fill="#222">0.5</text>
<line x1="456.90" y1="457.26" x2="460.20" y2="457.26" stroke="#fff" stroke-width="0.8"/>
<line x1="470.50" y1="457.26" x2="473.80" y2="457.26" stroke="#fff" stroke-width="0.8"/>
<text x="478.70" y="460.46" font-size="8.8" fill="#222">0.0</text>
<line x1="456.90" y1="472.98" x2="460.20" y2="472.98" stroke="#fff" stroke-width="0.8"/>
<line x1="470.50" y1="472.98" x2="473.80" y2="472.98" stroke="#fff" stroke-width="0.8"/>
<text x="478.70" y="476.18" font-size="8.8" fill="#222">−0.5</text>
<line x1="456.90" y1="488.70" x2="460.20" y2="488.70" stroke="#fff" stroke-width="0.8"/>
<line x1="470.50" y1="488.70" x2="473.80" y2="488.70" stroke="#fff" stroke-width="0.8"/>
<text x="478.70" y="491.90" font-size="8.8" fill="#222">−1.0</text>
<rect x="459.80" y="507.90" width="10.60" height="10.10" fill="none" stroke="#222" stroke-width="0.9"/>
<text x="475.80" y="517.00" font-size="10" fill="#222">trans</text>
<circle cx="464.80" cy="529.90" r="6.30" fill="none" stroke="#222" stroke-width="0.9"/>
<text x="475.80" y="533.60" font-size="10" fill="#222">cis</text>
<text x="514.80" y="301.00" font-size="16.5" fill="#111">d</text>
<text x="597.60" y="300.00" font-size="9.4" text-anchor="middle" fill="#222">ARID1A Proteome</text>
<text x="601.50" y="309.80" font-size="9.6" text-anchor="middle" fill="#222">p=0.0423</text>
<line x1="568.50" y1="310.20" x2="568.50" y2="412.50" stroke="#222" stroke-width="1"/>
<line x1="568.50" y1="412.50" x2="636.90" y2="412.50" stroke="#222" stroke-width="1"/>
<line x1="565.50" y1="309.70" x2="568.50" y2="309.70" stroke="#222" stroke-width="1"/>
<text x="565.00" y="313.20" font-size="9.6" text-anchor="end" fill="#222">4</text>
<line x1="565.50" y1="335.30" x2="568.50" y2="335.30" stroke="#222" stroke-width="1"/>
<text x="565.00" y="338.80" font-size="9.6" text-anchor="end" fill="#222">2</text>
<line x1="565.50" y1="360.90" x2="568.50" y2="360.90" stroke="#222" stroke-width="1"/>
<text x="565.00" y="364.40" font-size="9.6" text-anchor="end" fill="#222">0</text>
<line x1="565.50" y1="386.50" x2="568.50" y2="386.50" stroke="#222" stroke-width="1"/>
<text x="565.00" y="390.00" font-size="9.6" text-anchor="end" fill="#222">-2</text>
<line x1="565.50" y1="412.10" x2="568.50" y2="412.10" stroke="#222" stroke-width="1"/>
<text x="565.00" y="415.60" font-size="9.6" text-anchor="end" fill="#222">-4</text>
<line x1="562.00" y1="360.90" x2="636.90" y2="360.90" stroke="#111" stroke-width="1.5" stroke-dasharray="1.3,1.05"/>
<line x1="587.90" y1="351.30" x2="587.90" y2="359.88" stroke="#888" stroke-width="1.1"/>
<line x1="587.90" y1="376.52" x2="587.90" y2="392.26" stroke="#888" stroke-width="1.1"/>
<line x1="583.20" y1="351.30" x2="592.60" y2="351.30" stroke="#888" stroke-width="1.1"/>
<line x1="583.20" y1="392.26" x2="592.60" y2="392.26" stroke="#888" stroke-width="1.1"/>
<rect x="578.35" y="359.88" width="19.10" height="16.64" fill="#e84545" stroke="#222" stroke-width="1"/>
<line x1="578.35" y1="361.41" x2="597.45" y2="361.41" stroke="#222" stroke-width="1.2"/>
<line x1="587.90" y1="412.50" x2="587.90" y2="416.30" stroke="#222" stroke-width="1"/>
<line x1="617.40" y1="329.54" x2="617.40" y2="353.35" stroke="#333" stroke-width="1.1"/>
<line x1="617.40" y1="364.36" x2="617.40" y2="377.16" stroke="#333" stroke-width="1.1"/>
<line x1="612.70" y1="329.54" x2="622.10" y2="329.54" stroke="#333" stroke-width="1.1"/>
<line x1="612.70" y1="377.16" x2="622.10" y2="377.16" stroke="#333" stroke-width="1.1"/>
<rect x="608.10" y="353.35" width="18.60" height="11.01" fill="#5b9bd5" stroke="#222" stroke-width="1"/>
<line x1="608.10" y1="358.34" x2="626.70" y2="358.34" stroke="#222" stroke-width="1.2"/>
<line x1="617.40" y1="412.50" x2="617.40" y2="416.30" stroke="#222" stroke-width="1"/>
<text x="552.50" y="358.50" font-size="9.6" text-anchor="middle" fill="#222" transform="rotate(-90 552.50 358.50)">Log10(T/NAT ratio)</text>
<text x="590.10" y="427.30" font-size="9.55" text-anchor="middle" fill="#222">Mutant</text>
<text x="624.80" y="427.30" font-size="9.55" text-anchor="middle" fill="#222">WT</text>
<text x="601.50" y="447.00" font-size="9.5" text-anchor="middle" fill="#222">ARID1A TF activity profile</text>
<text x="600.30" y="461.00" font-size="9.6" text-anchor="middle" fill="#222">p=0.0462</text>
<line x1="569.40" y1="457.50" x2="569.40" y2="560.50" stroke="#222" stroke-width="1"/>
<line x1="569.40" y1="560.50" x2="639.00" y2="560.50" stroke="#222" stroke-width="1"/>
<line x1="566.40" y1="458.12" x2="569.40" y2="458.12" stroke="#222" stroke-width="1"/>
<text x="566.00" y="461.62" font-size="9.6" text-anchor="end" fill="#222">6</text>
<line x1="566.40" y1="475.28" x2="569.40" y2="475.28" stroke="#222" stroke-width="1"/>
<text x="566.00" y="478.78" font-size="9.6" text-anchor="end" fill="#222">4</text>
<line x1="566.40" y1="492.44" x2="569.40" y2="492.44" stroke="#222" stroke-width="1"/>
<text x="566.00" y="495.94" font-size="9.6" text-anchor="end" fill="#222">2</text>
<line x1="566.40" y1="509.60" x2="569.40" y2="509.60" stroke="#222" stroke-width="1"/>
<text x="566.00" y="513.10" font-size="9.6" text-anchor="end" fill="#222">0</text>
<line x1="566.40" y1="526.76" x2="569.40" y2="526.76" stroke="#222" stroke-width="1"/>
<text x="566.00" y="530.26" font-size="9.6" text-anchor="end" fill="#222">-2</text>
<line x1="566.40" y1="543.92" x2="569.40" y2="543.92" stroke="#222" stroke-width="1"/>
<text x="566.00" y="547.42" font-size="9.6" text-anchor="end" fill="#222">-4</text>
<line x1="566.40" y1="561.08" x2="569.40" y2="561.08" stroke="#222" stroke-width="1"/>
<text x="566.00" y="564.58" font-size="9.6" text-anchor="end" fill="#222">-6</text>
<line x1="564.00" y1="509.60" x2="639.00" y2="509.60" stroke="#111" stroke-width="1.5" stroke-dasharray="1.3,1.05"/>
<line x1="590.10" y1="542.20" x2="590.10" y2="541.77" stroke="#222" stroke-width="1.1"/>
<line x1="590.10" y1="542.63" x2="590.10" y2="542.20" stroke="#222" stroke-width="1.1"/>
<line x1="585.40" y1="542.20" x2="594.80" y2="542.20" stroke="#222" stroke-width="1.1"/>
<line x1="585.40" y1="542.20" x2="594.80" y2="542.20" stroke="#222" stroke-width="1.1"/>
<rect x="581.15" y="541.77" width="17.90" height="0.86" fill="#222" stroke="#222" stroke-width="1"/>
<line x1="581.15" y1="542.20" x2="599.05" y2="542.20" stroke="#222" stroke-width="1.2"/>
<line x1="590.10" y1="560.50" x2="590.10" y2="564.30" stroke="#222" stroke-width="1"/>
<line x1="619.00" y1="474.42" x2="619.00" y2="498.88" stroke="#888" stroke-width="1.1"/>
<line x1="619.00" y1="538.77" x2="619.00" y2="551.64" stroke="#888" stroke-width="1.1"/>
<line x1="614.30" y1="474.42" x2="623.70" y2="474.42" stroke="#888" stroke-width="1.1"/>
<line x1="614.30" y1="551.64" x2="623.70" y2="551.64" stroke="#888" stroke-width="1.1"/>
<rect x="609.55" y="498.88" width="18.90" height="39.90" fill="#5b9bd5" stroke="#222" stroke-width="1"/>
<line x1="609.55" y1="513.46" x2="628.45" y2="513.46" stroke="#222" stroke-width="1.2"/>
<line x1="619.00" y1="560.50" x2="619.00" y2="564.30" stroke="#222" stroke-width="1"/>
<text x="553.40" y="507.00" font-size="9.6" text-anchor="middle" fill="#222" transform="rotate(-90 553.40 507.00)">Log10(T/NAT ratio)</text>
<text x="591.40" y="572.60" font-size="9.55" text-anchor="middle" fill="#222">Mutant</text>
<text x="626.00" y="572.60" font-size="9.55" text-anchor="middle" fill="#222">WT</text>
<text x="-0.20" y="591.60" font-size="21" fill="#111">e</text>
<rect x="220.10" y="603.40" width="137.60" height="194.80" fill="#ebebeb"/>
<line x1="226.70" y1="603.40" x2="226.70" y2="798.20" stroke="#f6f6f6" stroke-width="0.6"/>
<line x1="258.95" y1="603.40" x2="258.95" y2="798.20" stroke="#f6f6f6" stroke-width="0.6"/>
<line x1="291.20" y1="603.40" x2="291.20" y2="798.20" stroke="#f6f6f6" stroke-width="0.6"/>
<line x1="323.45" y1="603.40" x2="323.45" y2="798.20" stroke="#f6f6f6" stroke-width="0.6"/>
<line x1="355.70" y1="603.40" x2="355.70" y2="798.20" stroke="#f6f6f6" stroke-width="0.6"/>
<line x1="242.80" y1="603.40" x2="242.80" y2="798.20" stroke="#ffffff" stroke-width="1.1"/>
<line x1="275.05" y1="603.40" x2="275.05" y2="798.20" stroke="#ffffff" stroke-width="1.1"/>
<line x1="307.30" y1="603.40" x2="307.30" y2="798.20" stroke="#ffffff" stroke-width="1.1"/>
<line x1="339.55" y1="603.40" x2="339.55" y2="798.20" stroke="#ffffff" stroke-width="1.1"/>
<line x1="220.10" y1="614.80" x2="357.70" y2="614.80" stroke="#ffffff" stroke-width="1.1"/>
<line x1="220.10" y1="633.98" x2="357.70" y2="633.98" stroke="#ffffff" stroke-width="1.1"/>
<line x1="220.10" y1="653.16" x2="357.70" y2="653.16" stroke="#ffffff" stroke-width="1.1"/>
<line x1="220.10" y1="672.34" x2="357.70" y2="672.34" stroke="#ffffff" stroke-width="1.1"/>
<line x1="220.10" y1="691.52" x2="357.70" y2="691.52" stroke="#ffffff" stroke-width="1.1"/>
<line x1="220.10" y1="710.70" x2="357.70" y2="710.70" stroke="#ffffff" stroke-width="1.1"/>
<line x1="220.10" y1="729.88" x2="357.70" y2="729.88" stroke="#ffffff" stroke-width="1.1"/>
<line x1="220.10" y1="749.06" x2="357.70" y2="749.06" stroke="#ffffff" stroke-width="1.1"/>
<line x1="220.10" y1="768.24" x2="357.70" y2="768.24" stroke="#ffffff" stroke-width="1.1"/>
<line x1="220.10" y1="787.42" x2="357.70" y2="787.42" stroke="#ffffff" stroke-width="1.1"/>
<text x="215.00" y="616.10" font-size="9.3" text-anchor="end" fill="#1a1a1a">Pattern recognition receptor signaling pathway</text>
<line x1="215.80" y1="614.80" x2="218.00" y2="614.80" stroke="#333" stroke-width="1.1"/>
<circle cx="351.40" cy="614.80" r="5.15" fill="#e8392a"/>
<text x="215.00" y="635.28" font-size="9.3" text-anchor="end" fill="#1a1a1a">Toll like receptor signaling pathway</text>
<line x1="215.80" y1="633.98" x2="218.00" y2="633.98" stroke="#333" stroke-width="1.1"/>
<circle cx="348.70" cy="633.98" r="4.45" fill="#e8392a"/>
<text x="215.00" y="654.46" font-size="9.3" text-anchor="end" fill="#1a1a1a">Endothelial&#160;cell&#160;migration&#160;</text>
<line x1="215.80" y1="653.16" x2="218.00" y2="653.16" stroke="#333" stroke-width="1.1"/>
<circle cx="340.60" cy="653.16" r="5.45" fill="#e8392a"/>
<text x="215.00" y="673.64" font-size="9.3" text-anchor="end" fill="#1a1a1a">Erad&#160;pathway&#160;</text>
<line x1="215.80" y1="672.34" x2="218.00" y2="672.34" stroke="#333" stroke-width="1.1"/>
<circle cx="335.60" cy="672.34" r="4.45" fill="#e8392a"/>
<text x="215.00" y="692.82" font-size="9.3" text-anchor="end" fill="#1a1a1a">Antigen processing and presentation</text>
<line x1="215.80" y1="691.52" x2="218.00" y2="691.52" stroke="#333" stroke-width="1.1"/>
<circle cx="288.90" cy="691.52" r="4.45" fill="#e8392a"/>
<text x="215.00" y="712.00" font-size="9.3" text-anchor="end" fill="#1a1a1a">Positive regulation of endothelial cell migration</text>
<line x1="215.80" y1="710.70" x2="218.00" y2="710.70" stroke="#333" stroke-width="1.1"/>
<circle cx="284.20" cy="710.70" r="4.45" fill="#e8392a"/>
<text x="215.00" y="731.18" font-size="9.3" text-anchor="end" fill="#1a1a1a">Response to endotplasmic reticulum stress</text>
<line x1="215.80" y1="729.88" x2="218.00" y2="729.88" stroke="#333" stroke-width="1.1"/>
<circle cx="271.50" cy="729.88" r="6.45" fill="#e8392a"/>
<text x="215.00" y="750.36" font-size="9.3" text-anchor="end" fill="#1a1a1a">Positive regulation of MAPK cascade</text>
<line x1="215.80" y1="749.06" x2="218.00" y2="749.06" stroke="#333" stroke-width="1.1"/>
<circle cx="245.60" cy="749.06" r="6.85" fill="#e8392a"/>
<text x="215.00" y="769.54" font-size="9.3" text-anchor="end" fill="#1a1a1a">Regulation of epithelial cell migration</text>
<line x1="215.80" y1="768.24" x2="218.00" y2="768.24" stroke="#333" stroke-width="1.1"/>
<circle cx="235.20" cy="768.24" r="6.15" fill="#e8392a"/>
<text x="215.00" y="788.72" font-size="9.3" text-anchor="end" fill="#1a1a1a">Regulation of macroautophagy</text>
<line x1="215.80" y1="787.42" x2="218.00" y2="787.42" stroke="#333" stroke-width="1.1"/>
<circle cx="233.80" cy="787.42" r="5.45" fill="#3a4fb0"/>
<line x1="259.30" y1="798.20" x2="259.30" y2="800.70" stroke="#333" stroke-width="1"/>
<text x="259.70" y="811.40" font-size="7.8" text-anchor="middle" fill="#4d4d4d">1.85</text>
<line x1="291.90" y1="798.20" x2="291.90" y2="800.70" stroke="#333" stroke-width="1"/>
<text x="292.30" y="811.40" font-size="7.8" text-anchor="middle" fill="#4d4d4d">1.90</text>
<line x1="322.80" y1="798.20" x2="322.80" y2="800.70" stroke="#333" stroke-width="1"/>
<text x="323.20" y="811.40" font-size="7.8" text-anchor="middle" fill="#4d4d4d">1.95</text>
<line x1="355.50" y1="798.20" x2="355.50" y2="800.70" stroke="#333" stroke-width="1"/>
<text x="355.90" y="811.40" font-size="7.8" text-anchor="middle" fill="#4d4d4d">2.00</text>
<text x="295.30" y="823.50" font-size="10" text-anchor="middle" fill="#1a1a1a">Normalized Enrichment Score</text>
<text x="373.90" y="642.30" font-size="7.9" fill="#1a1a1a">Size</text>
<rect x="374.50" y="643.70" width="13.50" height="57.10" fill="#ebebeb"/>
<circle cx="381.30" cy="651.50" r="3.60" fill="#000"/>
<text x="393.00" y="654.30" font-size="7.9" fill="#1a1a1a">20</text>
<circle cx="381.30" cy="665.60" r="4.50" fill="#000"/>
<text x="393.00" y="668.40" font-size="7.9" fill="#1a1a1a">30</text>
<circle cx="381.30" cy="679.80" r="5.15" fill="#000"/>
<text x="393.00" y="682.60" font-size="7.9" fill="#1a1a1a">40</text>
<circle cx="381.30" cy="694.10" r="5.80" fill="#000"/>
<text x="393.00" y="696.90" font-size="7.9" fill="#1a1a1a">50</text>
<text x="367.80" y="733.00" font-size="7.95" fill="#1a1a1a">-Log10(p value)</text>
<defs><linearGradient id="ge" x1="0" y1="0" x2="0" y2="1"><stop offset="0" stop-color="#e8392a"/><stop offset="0.3" stop-color="#dd1f55"/><stop offset="0.55" stop-color="#c21f9a"/><stop offset="0.78" stop-color="#7a32c0"/><stop offset="1" stop-color="#3a52b4"/></linearGradient></defs>
<rect x="374.50" y="735.00" width="13.50" height="71.60" fill="url(#ge)"/>
<line x1="374.50" y1="758.60" x2="377.20" y2="758.60" stroke="#fff" stroke-width="0.8"/>
<line x1="385.30" y1="758.60" x2="388.00" y2="758.60" stroke="#fff" stroke-width="0.8"/>
<text x="393.00" y="761.40" font-size="7.9" fill="#1a1a1a">2.8</text>
<line x1="374.50" y1="781.40" x2="377.20" y2="781.40" stroke="#fff" stroke-width="0.8"/>
<line x1="385.30" y1="781.40" x2="388.00" y2="781.40" stroke="#fff" stroke-width="0.8"/>
<text x="393.00" y="784.20" font-size="7.9" fill="#1a1a1a">2.6</text>
<line x1="374.50" y1="803.20" x2="377.20" y2="803.20" stroke="#fff" stroke-width="0.8"/>
<line x1="385.30" y1="803.20" x2="388.00" y2="803.20" stroke="#fff" stroke-width="0.8"/>
<text x="393.00" y="806.00" font-size="7.9" fill="#1a1a1a">2.4</text>
<text x="467.80" y="591.20" font-size="20.5" fill="#111">g</text>
<rect x="480.50" y="607.50" width="158.00" height="201.00" fill="#fff" stroke="#444" stroke-width="1"/>
<line x1="526.70" y1="607.50" x2="526.70" y2="808.50" stroke="#222" stroke-width="1.2" stroke-dasharray="3.2,7.9" stroke-dashoffset="4"/>
<line x1="480.50" y1="672.04" x2="638.50" y2="672.04" stroke="#333" stroke-width="1.1" stroke-dasharray="3.2,8" stroke-dashoffset="10.4"/>
<circle cx="515.90" cy="678.40" r="1.75" fill="#c2c2c2"/>
<circle cx="516.90" cy="684.20" r="1.75" fill="#c2c2c2"/>
<circle cx="629.10" cy="694.50" r="1.75" fill="#c2c2c2"/>
<circle cx="551.20" cy="723.70" r="1.75" fill="#c2c2c2"/>
<circle cx="583.80" cy="726.10" r="1.75" fill="#c2c2c2"/>
<circle cx="582.10" cy="750.10" r="1.75" fill="#c2c2c2"/>
<circle cx="597.50" cy="745.00" r="1.75" fill="#c2c2c2"/>
<circle cx="507.60" cy="761.40" r="1.75" fill="#c2c2c2"/>
<circle cx="536.40" cy="770.00" r="1.75" fill="#c2c2c2"/>
<circle cx="522.70" cy="782.70" r="1.75" fill="#c2c2c2"/>
<circle cx="579.70" cy="800.50" r="1.75" fill="#c2c2c2"/>
<circle cx="631.10" cy="799.20" r="1.75" fill="#c2c2c2"/>
<circle cx="529.90" cy="617.30" r="1.75" fill="#e03020"/>
<circle cx="548.80" cy="649.60" r="1.75" fill="#e03020"/>
<text x="535.10" y="620.20" font-size="7.9" fill="#1a1a1a">CD14</text>
<text x="552.90" y="653.60" font-size="7.9" fill="#1a1a1a">PIK3AP1</text>
<line x1="496.30" y1="808.50" x2="496.30" y2="811.00" stroke="#333" stroke-width="1"/>
<text x="496.30" y="818.20" font-size="7.3" text-anchor="middle" fill="#4d4d4d">0</text>
<line x1="526.50" y1="808.50" x2="526.50" y2="811.00" stroke="#333" stroke-width="1"/>
<text x="526.50" y="818.20" font-size="7.3" text-anchor="middle" fill="#4d4d4d">1</text>
<line x1="556.70" y1="808.50" x2="556.70" y2="811.00" stroke="#333" stroke-width="1"/>
<text x="556.70" y="818.20" font-size="7.3" text-anchor="middle" fill="#4d4d4d">2</text>
<line x1="586.90" y1="808.50" x2="586.90" y2="811.00" stroke="#333" stroke-width="1"/>
<text x="586.90" y="818.20" font-size="7.3" text-anchor="middle" fill="#4d4d4d">3</text>
<line x1="617.10" y1="808.50" x2="617.10" y2="811.00" stroke="#333" stroke-width="1"/>
<text x="617.10" y="818.20" font-size="7.3" text-anchor="middle" fill="#4d4d4d">4</text>
<line x1="478.00" y1="770.70" x2="480.50" y2="770.70" stroke="#333" stroke-width="1"/>
<text x="476.70" y="773.30" font-size="7.3" text-anchor="end" fill="#4d4d4d">0.6</text>
<line x1="478.00" y1="728.16" x2="480.50" y2="728.16" stroke="#333" stroke-width="1"/>
<text x="476.70" y="730.76" font-size="7.3" text-anchor="end" fill="#4d4d4d">0.9</text>
<line x1="478.00" y1="685.62" x2="480.50" y2="685.62" stroke="#333" stroke-width="1"/>
<text x="476.70" y="688.22" font-size="7.3" text-anchor="end" fill="#4d4d4d">1.2</text>
<line x1="478.00" y1="643.08" x2="480.50" y2="643.08" stroke="#333" stroke-width="1"/>
<text x="476.70" y="645.68" font-size="7.3" text-anchor="end" fill="#4d4d4d">1.5</text>
<text x="562.00" y="827.30" font-size="8.05" text-anchor="middle" fill="#1a1a1a">Log2(fold change)</text>
<text x="463.0" y="704.8" font-size="7.9" text-anchor="middle" fill="#1a1a1a" transform="rotate(-90 463.0 704.8)">−Log10(p value)</text>
<text x="649.60" y="701.00" font-size="8.2" fill="#1a1a1a">significant</text>
<rect x="649.30" y="705.00" width="11.60" height="22.70" fill="#ebebeb"/>
<circle cx="655.10" cy="710.00" r="1.75" fill="#c2c2c2"/>
<circle cx="655.10" cy="721.60" r="1.75" fill="#e03020"/>
<text x="664.40" y="712.90" font-size="8.2" fill="#1a1a1a">no</text>
<text x="664.40" y="724.50" font-size="8.2" fill="#1a1a1a">up</text>
<text x="0.30" y="863.20" font-size="19.8" fill="#111">f</text>
<rect x="24.20" y="839.10" width="189.60" height="188.90" fill="#f1f1f1"/>
<text x="118.30" y="846.20" font-size="6.9" text-anchor="middle" fill="#111" font-weight="bold">Enrichment plot:</text>
<text x="119.3" y="855.9" font-size="6.88" text-anchor="middle" fill="#111" font-weight="bold">GOBP_TOLL_LIKE_RECEPTOR_SIGNALING_PATHWAY</text>
<rect x="46.3" y="860.7" width="164.9" height="64.2" fill="#fff" stroke="#c8c8c8" stroke-width="0.6"/>
<line x1="77.52" y1="860.70" x2="77.52" y2="924.90" stroke="#d8d8d8" stroke-width="0.5" stroke-dasharray="1,1"/>
<line x1="108.47" y1="860.70" x2="108.47" y2="924.90" stroke="#d8d8d8" stroke-width="0.5" stroke-dasharray="1,1"/>
<line x1="139.71" y1="860.70" x2="139.71" y2="924.90" stroke="#d8d8d8" stroke-width="0.5" stroke-dasharray="1,1"/>
<line x1="170.95" y1="860.70" x2="170.95" y2="924.90" stroke="#d8d8d8" stroke-width="0.5" stroke-dasharray="1,1"/>
<line x1="201.61" y1="860.70" x2="201.61" y2="924.90" stroke="#d8d8d8" stroke-width="0.5" stroke-dasharray="1,1"/>
<line x1="46.30" y1="923.50" x2="211.20" y2="923.50" stroke="#bbbbbb" stroke-width="0.7"/>
<text x="43.70" y="925.30" font-size="5.0" text-anchor="end" fill="#555">0.0</text>
<line x1="46.30" y1="914.00" x2="211.20" y2="914.00" stroke="#e0e0e0" stroke-width="0.5" stroke-dasharray="1,1"/>
<text x="43.70" y="915.80" font-size="5.0" text-anchor="end" fill="#555">0.1</text>
<line x1="46.30" y1="904.50" x2="211.20" y2="904.50" stroke="#e0e0e0" stroke-width="0.5" stroke-dasharray="1,1"/>
<text x="43.70" y="906.30" font-size="5.0" text-anchor="end" fill="#555">0.2</text>
<line x1="46.30" y1="895.00" x2="211.20" y2="895.00" stroke="#e0e0e0" stroke-width="0.5" stroke-dasharray="1,1"/>
<text x="43.70" y="896.80" font-size="5.0" text-anchor="end" fill="#555">0.3</text>
<line x1="46.30" y1="885.50" x2="211.20" y2="885.50" stroke="#e0e0e0" stroke-width="0.5" stroke-dasharray="1,1"/>
<text x="43.70" y="887.30" font-size="5.0" text-anchor="end" fill="#555">0.4</text>
<line x1="46.30" y1="876.00" x2="211.20" y2="876.00" stroke="#e0e0e0" stroke-width="0.5" stroke-dasharray="1,1"/>
<text x="43.70" y="877.80" font-size="5.0" text-anchor="end" fill="#555">0.5</text>
<line x1="46.30" y1="866.50" x2="211.20" y2="866.50" stroke="#e0e0e0" stroke-width="0.5" stroke-dasharray="1,1"/>
<text x="43.70" y="868.30" font-size="5.0" text-anchor="end" fill="#555">0.6</text>
<polyline points="46.86,923.47 47.74,921.13 48.61,917.63 49.20,912.37 49.78,905.07 51.53,904.49 52.12,899.23 53.58,898.65 54.45,894.85 55.04,884.64 56.50,884.05 57.37,880.26 59.42,880.26 60.88,881.72 62.34,878.21 63.80,879.38 65.26,881.13 66.72,877.34 68.18,878.80 69.05,875.29 70.22,874.42 71.09,871.50 72.55,869.45 74.01,863.32 76.35,864.20 78.39,866.53 79.85,863.61 82.19,865.07 84.23,866.53 85.69,864.20 87.74,865.95 89.49,866.53 90.66,864.78 113.43,878.80 114.89,878.21 116.35,879.38 119.27,880.26 125.11,883.18 130.95,885.51 136.79,889.01 163.07,905.07 164.53,905.66 167.45,906.53 170.36,907.41 171.82,907.99 183.50,915.29 184.96,913.25 202.48,923.18" fill="none" stroke="#66cc22" stroke-width="1.1"/>
<text x="34.2" y="894.4" font-size="5.85" text-anchor="middle" fill="#555" transform="rotate(-90 34.2 894.4)">Enrichment score (ES)</text>
<rect x="46.3" y="926.3" width="164.9" height="23.4" fill="#fff" stroke="#c8c8c8" stroke-width="0.6"/>
<line x1="47.70" y1="927.80" x2="47.70" y2="949.00" stroke="#222" stroke-width="0.5"/>
<line x1="48.80" y1="927.80" x2="48.80" y2="949.00" stroke="#222" stroke-width="0.5"/>
<line x1="49.60" y1="927.80" x2="49.60" y2="949.00" stroke="#222" stroke-width="0.5"/>
<line x1="50.70" y1="927.80" x2="50.70" y2="949.00" stroke="#222" stroke-width="0.5"/>
<line x1="52.40" y1="927.80" x2="52.40" y2="949.00" stroke="#222" stroke-width="0.5"/>
<line x1="53.90" y1="927.80" x2="53.90" y2="949.00" stroke="#222" stroke-width="0.5"/>
<line x1="54.60" y1="927.80" x2="54.60" y2="949.00" stroke="#222" stroke-width="0.5"/>
<line x1="56.50" y1="927.80" x2="56.50" y2="949.00" stroke="#222" stroke-width="0.5"/>
<line x1="61.60" y1="927.80" x2="61.60" y2="949.00" stroke="#222" stroke-width="0.5"/>
<line x1="66.00" y1="927.80" x2="66.00" y2="949.00" stroke="#222" stroke-width="0.5"/>
<line x1="67.00" y1="927.80" x2="67.00" y2="949.00" stroke="#222" stroke-width="0.5"/>
<line x1="68.60" y1="927.80" x2="68.60" y2="949.00" stroke="#222" stroke-width="0.5"/>
<line x1="69.60" y1="927.80" x2="69.60" y2="949.00" stroke="#222" stroke-width="0.5"/>
<line x1="70.70" y1="927.80" x2="70.70" y2="949.00" stroke="#222" stroke-width="0.5"/>
<line x1="72.30" y1="927.80" x2="72.30" y2="949.00" stroke="#222" stroke-width="0.5"/>
<line x1="73.30" y1="927.80" x2="73.30" y2="949.00" stroke="#222" stroke-width="0.5"/>
<line x1="79.60" y1="927.80" x2="79.60" y2="949.00" stroke="#222" stroke-width="0.5"/>
<line x1="85.40" y1="927.80" x2="85.40" y2="949.00" stroke="#222" stroke-width="0.5"/>
<line x1="90.10" y1="927.80" x2="90.10" y2="949.00" stroke="#222" stroke-width="0.5"/>
<line x1="114.30" y1="927.80" x2="114.30" y2="949.00" stroke="#222" stroke-width="0.5"/>
<line x1="118.70" y1="927.80" x2="118.70" y2="949.00" stroke="#222" stroke-width="0.5"/>
<line x1="125.70" y1="927.80" x2="125.70" y2="949.00" stroke="#222" stroke-width="0.5"/>
<line x1="128.00" y1="927.80" x2="128.00" y2="949.00" stroke="#222" stroke-width="0.5"/>
<line x1="143.20" y1="927.80" x2="143.20" y2="949.00" stroke="#222" stroke-width="0.5"/>
<line x1="163.90" y1="927.80" x2="163.90" y2="949.00" stroke="#222" stroke-width="0.5"/>
<line x1="171.00" y1="927.80" x2="171.00" y2="949.00" stroke="#222" stroke-width="0.5"/>
<line x1="185.50" y1="927.80" x2="185.50" y2="949.00" stroke="#222" stroke-width="0.5"/>
<rect x="46.28" y="949.70" width="11.68" height="5.40" fill="#cc2a35"/>
<rect x="57.96" y="949.70" width="27.74" height="5.40" fill="#e0404e"/>
<rect x="85.69" y="949.70" width="16.06" height="5.40" fill="#ea6272"/>
<rect x="101.75" y="949.70" width="18.98" height="5.40" fill="#f28c95"/>
<rect x="120.73" y="949.70" width="18.98" height="5.40" fill="#eeb4dc"/>
<rect x="139.71" y="949.70" width="13.14" height="5.40" fill="#dcd4f2"/>
<rect x="152.85" y="949.70" width="14.60" height="5.40" fill="#c6bdee"/>
<rect x="167.45" y="949.70" width="8.76" height="5.40" fill="#8a88d6"/>
<rect x="176.20" y="949.70" width="16.06" height="5.40" fill="#5a58b6"/>
<rect x="192.26" y="949.70" width="10.80" height="5.40" fill="#3a2fa0"/>
<rect x="46.3" y="955.3" width="164.9" height="46.0" fill="#fff" stroke="#c8c8c8" stroke-width="0.6"/>
<line x1="77.52" y1="955.30" x2="77.52" y2="1001.30" stroke="#d8d8d8" stroke-width="0.5" stroke-dasharray="1,1"/>
<line x1="108.47" y1="955.30" x2="108.47" y2="1001.30" stroke="#d8d8d8" stroke-width="0.5" stroke-dasharray="1,1"/>
<line x1="139.71" y1="955.30" x2="139.71" y2="1001.30" stroke="#d8d8d8" stroke-width="0.5" stroke-dasharray="1,1"/>
<line x1="170.95" y1="955.30" x2="170.95" y2="1001.30" stroke="#d8d8d8" stroke-width="0.5" stroke-dasharray="1,1"/>
<line x1="201.61" y1="955.30" x2="201.61" y2="1001.30" stroke="#d8d8d8" stroke-width="0.5" stroke-dasharray="1,1"/>
<polygon points="46.40,980.00 46.40,956.30 47.70,962.70 50.00,965.80 52.80,967.80 58.00,969.40 65.50,970.30 78.30,971.60 90.00,972.80 103.90,974.20 115.00,975.80 124.30,977.50 132.00,978.80 139.60,980.00 155.00,980.60 170.00,981.80 180.50,983.10 188.00,984.80 193.30,986.90 198.00,989.50 201.00,992.00 202.60,995.00 203.30,998.40 203.30,980.00" fill="#bdbdbd"/>
<text x="47.70" y="959.20" font-size="4.1" fill="#e03030">Mutant (positively correlated)</text>
<text x="139.70" y="978.80" font-size="3.6" text-anchor="middle" fill="#333">Zero cross at 1524</text>
<text x="153.00" y="998.90" font-size="4.1" text-anchor="middle" fill="#3040c0">'WT' (negatively correlated)</text>
<text x="42.30" y="967.29" font-size="4.3" text-anchor="end" fill="#555">0.5</text>
<line x1="46.30" y1="965.69" x2="211.20" y2="965.69" stroke="#dddddd" stroke-width="0.5" stroke-dasharray="1,1"/>
<text x="42.30" y="981.89" font-size="4.3" text-anchor="end" fill="#555">0.0</text>
<text x="42.30" y="997.07" font-size="4.3" text-anchor="end" fill="#555">-0.5</text>
<line x1="46.30" y1="995.47" x2="211.20" y2="995.47" stroke="#dddddd" stroke-width="0.5" stroke-dasharray="1,1"/>
<text x="34.2" y="977.9" font-size="4.75" text-anchor="middle" fill="#555" transform="rotate(-90 34.2 977.9)">Ranked list metric (Signal2Noise)</text>
<text x="46.28" y="1006.80" font-size="4.2" text-anchor="middle" fill="#555">0</text>
<text x="77.52" y="1006.80" font-size="4.2" text-anchor="middle" fill="#555">500</text>
<text x="108.47" y="1006.80" font-size="4.2" text-anchor="middle" fill="#555">1,000</text>
<text x="139.71" y="1006.80" font-size="4.2" text-anchor="middle" fill="#555">1,500</text>
<text x="170.95" y="1006.80" font-size="4.2" text-anchor="middle" fill="#555">2,000</text>
<text x="201.61" y="1006.80" font-size="4.2" text-anchor="middle" fill="#555">2,500</text>
<text x="128.80" y="1013.60" font-size="4.65" text-anchor="middle" fill="#333">Rank in Ordered Dataset</text>
<rect x="54.0" y="1018.4" width="130.3" height="9.4" fill="#fff" stroke="#666" stroke-width="0.6"/>
<line x1="55.30" y1="1023.00" x2="60.80" y2="1023.00" stroke="#66cc22" stroke-width="0.9"/>
<text x="62.10" y="1024.60" font-size="4.65" fill="#333">Enrichment profile</text>
<line x1="102.40" y1="1023.00" x2="107.40" y2="1023.00" stroke="#333" stroke-width="0.6"/>
<text x="108.90" y="1024.60" font-size="4.65" fill="#333">Hits</text>
<line x1="129.30" y1="1023.00" x2="134.30" y2="1023.00" stroke="#ccc" stroke-width="0.6"/>
<text x="135.90" y="1024.60" font-size="4.7" fill="#333">Ranking metric scores</text>
<text x="251.50" y="863.00" font-size="19.3" fill="#111">h</text>
<text x="339.00" y="869.90" font-size="9.65" text-anchor="middle" fill="#222">CD14</text>
<text x="337.90" y="880.90" font-size="9.65" text-anchor="middle" fill="#222">p=0.0205</text>
<line x1="294.50" y1="878.90" x2="294.50" y2="1006.50" stroke="#222" stroke-width="1"/>
<line x1="294.00" y1="1006.50" x2="379.70" y2="1006.50" stroke="#222" stroke-width="1"/>
<line x1="289.30" y1="878.60" x2="294.50" y2="878.60" stroke="#222" stroke-width="1"/>
<text x="287.80" y="882.10" font-size="9.6" text-anchor="end" fill="#222">2</text>
<line x1="289.30" y1="910.40" x2="294.50" y2="910.40" stroke="#222" stroke-width="1"/>
<text x="287.80" y="913.90" font-size="9.6" text-anchor="end" fill="#222">1</text>
<line x1="289.30" y1="942.20" x2="294.50" y2="942.20" stroke="#222" stroke-width="1"/>
<text x="287.80" y="945.70" font-size="9.6" text-anchor="end" fill="#222">0</text>
<line x1="289.30" y1="974.00" x2="294.50" y2="974.00" stroke="#222" stroke-width="1"/>
<text x="287.80" y="977.50" font-size="9.6" text-anchor="end" fill="#222">-1</text>
<line x1="289.30" y1="1005.80" x2="294.50" y2="1005.80" stroke="#222" stroke-width="1"/>
<text x="287.80" y="1009.30" font-size="9.6" text-anchor="end" fill="#222">-2</text>
<line x1="297.00" y1="942.20" x2="379.70" y2="942.20" stroke="#111" stroke-width="1.5" stroke-dasharray="1.5,2.5"/>
<line x1="318.40" y1="911.35" x2="318.40" y2="912.31" stroke="#333" stroke-width="1.1"/>
<line x1="318.40" y1="930.43" x2="318.40" y2="937.68" stroke="#333" stroke-width="1.1"/>
<line x1="312.40" y1="911.35" x2="324.40" y2="911.35" stroke="#333" stroke-width="1.1"/>
<line x1="312.40" y1="937.68" x2="324.40" y2="937.68" stroke="#333" stroke-width="1.1"/>
<rect x="306.35" y="912.31" width="24.10" height="18.13" fill="#e03a28" stroke="#222" stroke-width="1"/>
<line x1="306.35" y1="924.39" x2="330.45" y2="924.39" stroke="#222" stroke-width="1.1"/>
<line x1="355.30" y1="918.99" x2="355.30" y2="927.89" stroke="#333" stroke-width="1.1"/>
<line x1="355.30" y1="943.47" x2="355.30" y2="949.83" stroke="#333" stroke-width="1.1"/>
<line x1="349.30" y1="918.99" x2="361.30" y2="918.99" stroke="#333" stroke-width="1.1"/>
<line x1="349.30" y1="949.83" x2="361.30" y2="949.83" stroke="#333" stroke-width="1.1"/>
<rect x="343.35" y="927.89" width="23.90" height="15.58" fill="#5b9bd5" stroke="#222" stroke-width="1"/>
<line x1="343.35" y1="934.57" x2="367.25" y2="934.57" stroke="#222" stroke-width="1.1"/>
<line x1="318.10" y1="1006.50" x2="318.10" y2="1010.00" stroke="#222" stroke-width="1"/>
<text x="317.40" y="1021.80" font-size="9.5" text-anchor="middle" fill="#222">Mutant</text>
<line x1="354.10" y1="1006.50" x2="354.10" y2="1010.00" stroke="#222" stroke-width="1"/>
<text x="352.90" y="1021.80" font-size="9.5" text-anchor="middle" fill="#222">WT</text>
<text x="273.6" y="944.5" font-size="9.6" text-anchor="middle" fill="#222" transform="rotate(-90 274.0 944.5)">Log10(T/NAT ratio)</text>
<text x="408.60" y="863.00" font-size="19.3" fill="#111">i</text>
<text x="538.50" y="870.30" font-size="10.5" text-anchor="middle" fill="#222">CD14</text>
<text x="538.50" y="883.60" font-size="10.5" text-anchor="middle" fill="#222">p=0.0311</text>
<line x1="449.50" y1="872.00" x2="449.50" y2="999.50" stroke="#333" stroke-width="1"/>
<line x1="449.00" y1="999.50" x2="639.20" y2="999.50" stroke="#333" stroke-width="1"/>
<line x1="444.90" y1="999.20" x2="449.50" y2="999.20" stroke="#333" stroke-width="0.9"/>
<line x1="447.10" y1="993.46" x2="449.50" y2="993.46" stroke="#333" stroke-width="0.9"/>
<line x1="447.10" y1="987.72" x2="449.50" y2="987.72" stroke="#333" stroke-width="0.9"/>
<line x1="447.10" y1="981.98" x2="449.50" y2="981.98" stroke="#333" stroke-width="0.9"/>
<line x1="447.10" y1="976.24" x2="449.50" y2="976.24" stroke="#333" stroke-width="0.9"/>
<line x1="447.10" y1="970.50" x2="449.50" y2="970.50" stroke="#333" stroke-width="0.9"/>
<line x1="447.10" y1="964.76" x2="449.50" y2="964.76" stroke="#333" stroke-width="0.9"/>
<line x1="447.10" y1="959.02" x2="449.50" y2="959.02" stroke="#333" stroke-width="0.9"/>
<line x1="447.10" y1="953.28" x2="449.50" y2="953.28" stroke="#333" stroke-width="0.9"/>
<line x1="447.10" y1="947.54" x2="449.50" y2="947.54" stroke="#333" stroke-width="0.9"/>
<line x1="444.90" y1="941.80" x2="449.50" y2="941.80" stroke="#333" stroke-width="0.9"/>
<line x1="447.10" y1="936.06" x2="449.50" y2="936.06" stroke="#333" stroke-width="0.9"/>
<line x1="447.10" y1="930.32" x2="449.50" y2="930.32" stroke="#333" stroke-width="0.9"/>
<line x1="447.10" y1="924.58" x2="449.50" y2="924.58" stroke="#333" stroke-width="0.9"/>
<line x1="447.10" y1="918.84" x2="449.50" y2="918.84" stroke="#333" stroke-width="0.9"/>
<line x1="447.10" y1="913.10" x2="449.50" y2="913.10" stroke="#333" stroke-width="0.9"/>
<line x1="447.10" y1="907.36" x2="449.50" y2="907.36" stroke="#333" stroke-width="0.9"/>
<line x1="447.10" y1="901.62" x2="449.50" y2="901.62" stroke="#333" stroke-width="0.9"/>
<line x1="447.10" y1="895.88" x2="449.50" y2="895.88" stroke="#333" stroke-width="0.9"/>
<line x1="447.10" y1="890.14" x2="449.50" y2="890.14" stroke="#333" stroke-width="0.9"/>
<line x1="444.90" y1="884.40" x2="449.50" y2="884.40" stroke="#333" stroke-width="0.9"/>
<line x1="447.10" y1="878.66" x2="449.50" y2="878.66" stroke="#333" stroke-width="0.9"/>
<line x1="447.10" y1="872.92" x2="449.50" y2="872.92" stroke="#333" stroke-width="0.9"/>
<text x="445.50" y="1003.00" font-size="10.5" text-anchor="end" fill="#222">0</text>
<text x="445.50" y="945.60" font-size="10.5" text-anchor="end" fill="#222">50</text>
<text x="445.50" y="888.20" font-size="10.5" text-anchor="end" fill="#222">100</text>
<line x1="449.90" y1="999.50" x2="449.90" y2="1003.00" stroke="#333" stroke-width="0.9"/>
<text x="450.30" y="1015.60" font-size="10.5" text-anchor="middle" fill="#222">0</text>
<line x1="497.22" y1="999.50" x2="497.22" y2="1003.00" stroke="#333" stroke-width="0.9"/>
<text x="497.62" y="1015.60" font-size="10.5" text-anchor="middle" fill="#222">500</text>
<line x1="544.55" y1="999.50" x2="544.55" y2="1003.00" stroke="#333" stroke-width="0.9"/>
<text x="544.95" y="1015.60" font-size="10.5" text-anchor="middle" fill="#222">1000</text>
<line x1="591.88" y1="999.50" x2="591.88" y2="1003.00" stroke="#333" stroke-width="0.9"/>
<text x="592.27" y="1015.60" font-size="10.5" text-anchor="middle" fill="#222">1500</text>
<line x1="639.20" y1="999.50" x2="639.20" y2="1003.00" stroke="#333" stroke-width="0.9"/>
<text x="639.60" y="1015.60" font-size="10.5" text-anchor="middle" fill="#222">2000</text>
<text x="543.80" y="1032.80" font-size="10.5" text-anchor="middle" fill="#222">days</text>
<text x="422.5" y="940.0" font-size="10.8" text-anchor="middle" fill="#222" transform="rotate(-90 422.5 940.0)">Probability of Survival</text>
<polyline points="449.67,884.34 458.55,884.34 458.55,886.21 460.88,886.21 460.88,889.72 470.69,889.72 470.69,891.35 476.53,891.35 476.53,893.22 482.37,893.22 482.37,894.86 487.05,894.86 487.05,897.66 517.41,897.66 517.41,900.69 519.28,900.69 519.28,903.50 536.10,903.50 536.10,905.37 541.94,905.37 541.94,907.70 543.11,907.70 543.11,910.04 553.62,910.04 553.62,913.54 555.96,913.54 555.96,915.88 558.29,915.88 558.29,918.91 571.14,918.91 571.14,921.72 572.31,921.72 572.31,926.39 601.04,926.39" fill="none" stroke="#2a3d9e" stroke-width="1.2"/>
<line x1="509.94" y1="895.46" x2="509.94" y2="897.66" stroke="#2a3d9e" stroke-width="0.9"/>
<line x1="525.59" y1="901.30" x2="525.59" y2="903.50" stroke="#2a3d9e" stroke-width="0.9"/>
<line x1="538.44" y1="903.17" x2="538.44" y2="905.37" stroke="#2a3d9e" stroke-width="0.9"/>
<line x1="541.24" y1="903.17" x2="541.24" y2="905.37" stroke="#2a3d9e" stroke-width="0.9"/>
<line x1="548.95" y1="907.84" x2="548.95" y2="910.04" stroke="#2a3d9e" stroke-width="0.9"/>
<line x1="550.58" y1="907.84" x2="550.58" y2="910.04" stroke="#2a3d9e" stroke-width="0.9"/>
<line x1="552.92" y1="907.84" x2="552.92" y2="910.04" stroke="#2a3d9e" stroke-width="0.9"/>
<line x1="560.63" y1="916.71" x2="560.63" y2="918.91" stroke="#2a3d9e" stroke-width="0.9"/>
<line x1="562.26" y1="916.71" x2="562.26" y2="918.91" stroke="#2a3d9e" stroke-width="0.9"/>
<line x1="564.13" y1="916.71" x2="564.13" y2="918.91" stroke="#2a3d9e" stroke-width="0.9"/>
<line x1="575.81" y1="924.19" x2="575.81" y2="926.39" stroke="#2a3d9e" stroke-width="0.9"/>
<line x1="580.48" y1="924.19" x2="580.48" y2="926.39" stroke="#2a3d9e" stroke-width="0.9"/>
<line x1="583.99" y1="924.19" x2="583.99" y2="926.39" stroke="#2a3d9e" stroke-width="0.9"/>
<line x1="588.66" y1="924.19" x2="588.66" y2="926.39" stroke="#2a3d9e" stroke-width="0.9"/>
<line x1="601.04" y1="924.19" x2="601.04" y2="926.39" stroke="#2a3d9e" stroke-width="0.9"/>
<polyline points="449.67,884.34 470.23,884.34 470.23,889.48 471.86,889.48 471.86,894.15 479.57,894.15 479.57,899.06 488.21,899.06 488.21,904.43 498.26,904.43 498.26,909.57 503.86,909.57 503.86,914.24 508.54,914.24 508.54,919.38 512.74,919.38 512.74,924.05 531.43,924.05 531.43,930.13 538.44,930.13 538.44,932.93 539.60,932.93 539.60,936.90 541.94,936.90 541.94,942.74 544.28,942.74 544.28,948.58 580.48,948.58" fill="none" stroke="#e23a2c" stroke-width="1.2"/>
<line x1="523.25" y1="921.85" x2="523.25" y2="924.05" stroke="#e23a2c" stroke-width="0.9"/>
<line x1="547.78" y1="946.38" x2="547.78" y2="948.58" stroke="#e23a2c" stroke-width="0.9"/>
<line x1="553.62" y1="946.38" x2="553.62" y2="948.58" stroke="#e23a2c" stroke-width="0.9"/>
<line x1="560.63" y1="946.38" x2="560.63" y2="948.58" stroke="#e23a2c" stroke-width="0.9"/>
<line x1="566.47" y1="946.38" x2="566.47" y2="948.58" stroke="#e23a2c" stroke-width="0.9"/>
<line x1="573.47" y1="946.38" x2="573.47" y2="948.58" stroke="#e23a2c" stroke-width="0.9"/>
<line x1="580.02" y1="946.38" x2="580.02" y2="948.58" stroke="#e23a2c" stroke-width="0.9"/>
<line x1="458.80" y1="970.40" x2="472.10" y2="970.40" stroke="#2a3d9e" stroke-width="1.2"/>
<line x1="465.40" y1="968.20" x2="465.40" y2="970.40" stroke="#2a3d9e" stroke-width="0.9"/>
<line x1="458.80" y1="987.80" x2="472.10" y2="987.80" stroke="#e23a2c" stroke-width="1.2"/>
<line x1="465.40" y1="985.60" x2="465.40" y2="987.80" stroke="#e23a2c" stroke-width="0.9"/>
<text x="479.70" y="974.20" font-size="10.8" fill="#222">low n=42</text>
<text x="479.70" y="991.60" font-size="10.8" fill="#222">high n=23</text>
</svg>
</body></html>
